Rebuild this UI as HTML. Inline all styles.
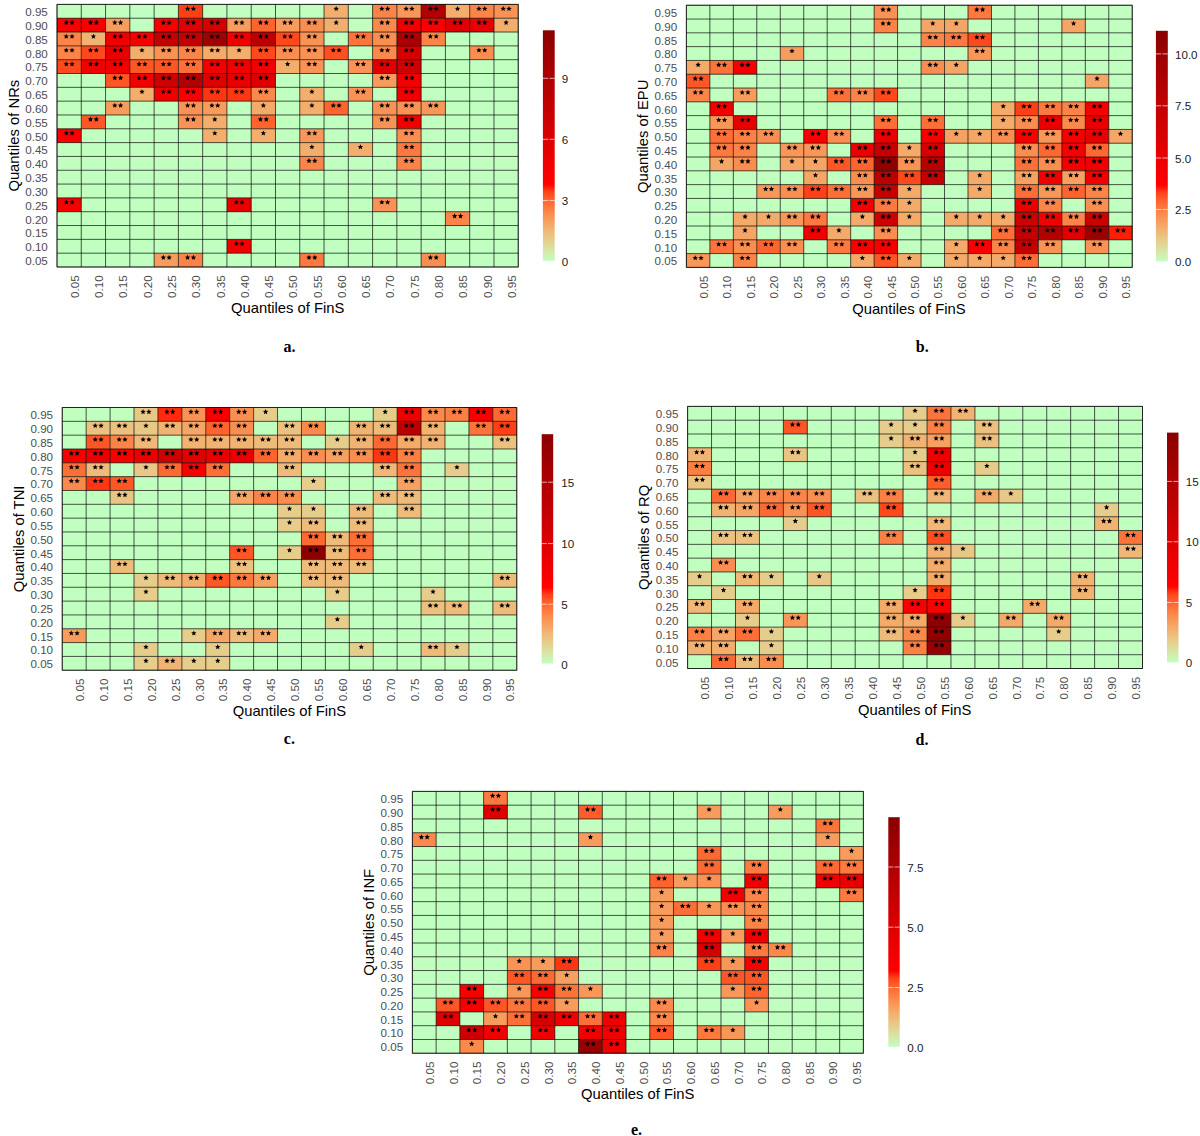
<!DOCTYPE html><html><head><meta charset="utf-8"><style>html,body{margin:0;padding:0;background:#fff;}svg{display:block}.al{font-family:"Liberation Sans",sans-serif;font-size:11.6px;fill:#4D4D4D}.lg{font-family:"Liberation Sans",sans-serif;font-size:11.6px;fill:#1A1A1A}.tt{font-family:"Liberation Sans",sans-serif;font-size:14.8px;fill:#000}.cp{font-family:"Liberation Serif",serif;font-size:16px;font-weight:bold;fill:#000}</style></head><body>
<svg width="1200" height="1136" viewBox="0 0 1200 1136">
<defs><path id="s" d="M0.00,-2.80L0.76,-1.05L2.66,-0.87L1.24,0.40L1.65,2.27L0.00,1.30L-1.65,2.27L-1.24,0.40L-2.66,-0.87L-0.76,-1.05Z"/>
<linearGradient id="cg" x1="0" y1="1" x2="0" y2="0"><stop offset="0.000" stop-color="#C1FFC1"/><stop offset="0.033" stop-color="#D2EDAE"/><stop offset="0.067" stop-color="#DEDB9B"/><stop offset="0.100" stop-color="#E8C988"/><stop offset="0.133" stop-color="#F0B675"/><stop offset="0.167" stop-color="#F6A363"/><stop offset="0.200" stop-color="#FA8F51"/><stop offset="0.233" stop-color="#FD793F"/><stop offset="0.267" stop-color="#FF602D"/><stop offset="0.300" stop-color="#FF4219"/><stop offset="0.333" stop-color="#FF0000"/><stop offset="0.367" stop-color="#F90000"/><stop offset="0.400" stop-color="#F30001"/><stop offset="0.433" stop-color="#ED0001"/><stop offset="0.467" stop-color="#E70001"/><stop offset="0.500" stop-color="#E10001"/><stop offset="0.533" stop-color="#DB0001"/><stop offset="0.567" stop-color="#D50002"/><stop offset="0.600" stop-color="#CF0002"/><stop offset="0.633" stop-color="#C90002"/><stop offset="0.667" stop-color="#C30002"/><stop offset="0.700" stop-color="#BE0002"/><stop offset="0.733" stop-color="#B80002"/><stop offset="0.767" stop-color="#B20002"/><stop offset="0.800" stop-color="#AC0002"/><stop offset="0.833" stop-color="#A70002"/><stop offset="0.867" stop-color="#A10002"/><stop offset="0.900" stop-color="#9B0002"/><stop offset="0.933" stop-color="#960001"/><stop offset="0.967" stop-color="#900001"/><stop offset="1.000" stop-color="#8B0000"/></linearGradient></defs>
<rect width="1200" height="1136" fill="#fff"/>
<rect x="57" y="4.4" width="461.25" height="262.6" fill="#C1FFC1"/>
<rect x="178.38" y="4.4" width="24.28" height="13.82" fill="#FF4017"/>
<rect x="324.04" y="4.4" width="24.28" height="13.82" fill="#F3AE6D"/>
<rect x="372.59" y="4.4" width="24.28" height="13.82" fill="#FC8448"/>
<rect x="396.87" y="4.4" width="24.28" height="13.82" fill="#F89758"/>
<rect x="421.14" y="4.4" width="24.28" height="13.82" fill="#B20002"/>
<rect x="445.42" y="4.4" width="24.28" height="13.82" fill="#F3AE6D"/>
<rect x="469.7" y="4.4" width="24.28" height="13.82" fill="#FC8448"/>
<rect x="493.97" y="4.4" width="24.28" height="13.82" fill="#F99254"/>
<rect x="57" y="18.22" width="24.28" height="13.82" fill="#FB0000"/>
<rect x="81.28" y="18.22" width="24.28" height="13.82" fill="#F60000"/>
<rect x="105.55" y="18.22" width="24.28" height="13.82" fill="#F79C5D"/>
<rect x="154.11" y="18.22" width="24.28" height="13.82" fill="#F60000"/>
<rect x="178.38" y="18.22" width="24.28" height="13.82" fill="#DF0001"/>
<rect x="202.66" y="18.22" width="24.28" height="13.82" fill="#D60002"/>
<rect x="226.93" y="18.22" width="24.28" height="13.82" fill="#F79C5D"/>
<rect x="251.21" y="18.22" width="24.28" height="13.82" fill="#FF632E"/>
<rect x="275.49" y="18.22" width="24.28" height="13.82" fill="#F79C5D"/>
<rect x="299.76" y="18.22" width="24.28" height="13.82" fill="#FA8E50"/>
<rect x="324.04" y="18.22" width="24.28" height="13.82" fill="#F3AE6D"/>
<rect x="372.59" y="18.22" width="24.28" height="13.82" fill="#FB894C"/>
<rect x="396.87" y="18.22" width="24.28" height="13.82" fill="#EE0001"/>
<rect x="421.14" y="18.22" width="24.28" height="13.82" fill="#FB0000"/>
<rect x="445.42" y="18.22" width="24.28" height="13.82" fill="#DF0001"/>
<rect x="469.7" y="18.22" width="24.28" height="13.82" fill="#E90001"/>
<rect x="493.97" y="18.22" width="24.28" height="13.82" fill="#F3AE6D"/>
<rect x="57" y="32.04" width="24.28" height="13.82" fill="#FC8448"/>
<rect x="81.28" y="32.04" width="24.28" height="13.82" fill="#F1B372"/>
<rect x="105.55" y="32.04" width="24.28" height="13.82" fill="#F20001"/>
<rect x="129.83" y="32.04" width="24.28" height="13.82" fill="#F60000"/>
<rect x="154.11" y="32.04" width="24.28" height="13.82" fill="#C40002"/>
<rect x="178.38" y="32.04" width="24.28" height="13.82" fill="#C40002"/>
<rect x="202.66" y="32.04" width="24.28" height="13.82" fill="#A10002"/>
<rect x="226.93" y="32.04" width="24.28" height="13.82" fill="#F20001"/>
<rect x="251.21" y="32.04" width="24.28" height="13.82" fill="#BB0002"/>
<rect x="275.49" y="32.04" width="24.28" height="13.82" fill="#FF481C"/>
<rect x="299.76" y="32.04" width="24.28" height="13.82" fill="#F99254"/>
<rect x="348.32" y="32.04" width="24.28" height="13.82" fill="#FD743B"/>
<rect x="372.59" y="32.04" width="24.28" height="13.82" fill="#FA8E50"/>
<rect x="396.87" y="32.04" width="24.28" height="13.82" fill="#AA0002"/>
<rect x="421.14" y="32.04" width="24.28" height="13.82" fill="#FC8448"/>
<rect x="57" y="45.86" width="24.28" height="13.82" fill="#FC8448"/>
<rect x="81.28" y="45.86" width="24.28" height="13.82" fill="#FF481C"/>
<rect x="105.55" y="45.86" width="24.28" height="13.82" fill="#E90001"/>
<rect x="129.83" y="45.86" width="24.28" height="13.82" fill="#F3AE6D"/>
<rect x="154.11" y="45.86" width="24.28" height="13.82" fill="#F99254"/>
<rect x="178.38" y="45.86" width="24.28" height="13.82" fill="#FC8448"/>
<rect x="202.66" y="45.86" width="24.28" height="13.82" fill="#F4AA69"/>
<rect x="226.93" y="45.86" width="24.28" height="13.82" fill="#F3AE6D"/>
<rect x="251.21" y="45.86" width="24.28" height="13.82" fill="#FF481C"/>
<rect x="275.49" y="45.86" width="24.28" height="13.82" fill="#FA8E50"/>
<rect x="299.76" y="45.86" width="24.28" height="13.82" fill="#F99254"/>
<rect x="324.04" y="45.86" width="24.28" height="13.82" fill="#FF4F21"/>
<rect x="372.59" y="45.86" width="24.28" height="13.82" fill="#FB894C"/>
<rect x="396.87" y="45.86" width="24.28" height="13.82" fill="#D60002"/>
<rect x="469.7" y="45.86" width="24.28" height="13.82" fill="#FA8E50"/>
<rect x="57" y="59.68" width="24.28" height="13.82" fill="#FF481C"/>
<rect x="81.28" y="59.68" width="24.28" height="13.82" fill="#F20001"/>
<rect x="105.55" y="59.68" width="24.28" height="13.82" fill="#F20001"/>
<rect x="129.83" y="59.68" width="24.28" height="13.82" fill="#FF5626"/>
<rect x="154.11" y="59.68" width="24.28" height="13.82" fill="#FF5626"/>
<rect x="178.38" y="59.68" width="24.28" height="13.82" fill="#FE6F37"/>
<rect x="202.66" y="59.68" width="24.28" height="13.82" fill="#F20001"/>
<rect x="226.93" y="59.68" width="24.28" height="13.82" fill="#F20001"/>
<rect x="251.21" y="59.68" width="24.28" height="13.82" fill="#F20001"/>
<rect x="275.49" y="59.68" width="24.28" height="13.82" fill="#F3AE6D"/>
<rect x="299.76" y="59.68" width="24.28" height="13.82" fill="#F99254"/>
<rect x="348.32" y="59.68" width="24.28" height="13.82" fill="#F99254"/>
<rect x="372.59" y="59.68" width="24.28" height="13.82" fill="#DF0001"/>
<rect x="396.87" y="59.68" width="24.28" height="13.82" fill="#CD0002"/>
<rect x="105.55" y="73.51" width="24.28" height="13.82" fill="#FF5626"/>
<rect x="129.83" y="73.51" width="24.28" height="13.82" fill="#F20001"/>
<rect x="154.11" y="73.51" width="24.28" height="13.82" fill="#CD0002"/>
<rect x="178.38" y="73.51" width="24.28" height="13.82" fill="#B20002"/>
<rect x="202.66" y="73.51" width="24.28" height="13.82" fill="#DF0001"/>
<rect x="226.93" y="73.51" width="24.28" height="13.82" fill="#E90001"/>
<rect x="251.21" y="73.51" width="24.28" height="13.82" fill="#DF0001"/>
<rect x="372.59" y="73.51" width="24.28" height="13.82" fill="#F79C5D"/>
<rect x="396.87" y="73.51" width="24.28" height="13.82" fill="#F20001"/>
<rect x="129.83" y="87.33" width="24.28" height="13.82" fill="#F3AE6D"/>
<rect x="154.11" y="87.33" width="24.28" height="13.82" fill="#F20001"/>
<rect x="178.38" y="87.33" width="24.28" height="13.82" fill="#F60000"/>
<rect x="202.66" y="87.33" width="24.28" height="13.82" fill="#FF3612"/>
<rect x="226.93" y="87.33" width="24.28" height="13.82" fill="#FF3612"/>
<rect x="251.21" y="87.33" width="24.28" height="13.82" fill="#FB894C"/>
<rect x="299.76" y="87.33" width="24.28" height="13.82" fill="#F3AE6D"/>
<rect x="348.32" y="87.33" width="24.28" height="13.82" fill="#F99254"/>
<rect x="396.87" y="87.33" width="24.28" height="13.82" fill="#F20001"/>
<rect x="105.55" y="101.15" width="24.28" height="13.82" fill="#F79C5D"/>
<rect x="178.38" y="101.15" width="24.28" height="13.82" fill="#F99254"/>
<rect x="202.66" y="101.15" width="24.28" height="13.82" fill="#F79C5D"/>
<rect x="251.21" y="101.15" width="24.28" height="13.82" fill="#F4AA69"/>
<rect x="299.76" y="101.15" width="24.28" height="13.82" fill="#F3AE6D"/>
<rect x="324.04" y="101.15" width="24.28" height="13.82" fill="#FF632E"/>
<rect x="372.59" y="101.15" width="24.28" height="13.82" fill="#F99254"/>
<rect x="396.87" y="101.15" width="24.28" height="13.82" fill="#F99254"/>
<rect x="421.14" y="101.15" width="24.28" height="13.82" fill="#F89758"/>
<rect x="81.28" y="114.97" width="24.28" height="13.82" fill="#FF5626"/>
<rect x="178.38" y="114.97" width="24.28" height="13.82" fill="#F99254"/>
<rect x="202.66" y="114.97" width="24.28" height="13.82" fill="#F3AE6D"/>
<rect x="251.21" y="114.97" width="24.28" height="13.82" fill="#FF632E"/>
<rect x="372.59" y="114.97" width="24.28" height="13.82" fill="#F99254"/>
<rect x="396.87" y="114.97" width="24.28" height="13.82" fill="#F20001"/>
<rect x="57" y="128.79" width="24.28" height="13.82" fill="#FB0000"/>
<rect x="202.66" y="128.79" width="24.28" height="13.82" fill="#F3AE6D"/>
<rect x="251.21" y="128.79" width="24.28" height="13.82" fill="#F3AE6D"/>
<rect x="299.76" y="128.79" width="24.28" height="13.82" fill="#F89758"/>
<rect x="396.87" y="128.79" width="24.28" height="13.82" fill="#FA8E50"/>
<rect x="299.76" y="142.61" width="24.28" height="13.82" fill="#F3AE6D"/>
<rect x="348.32" y="142.61" width="24.28" height="13.82" fill="#F3AE6D"/>
<rect x="396.87" y="142.61" width="24.28" height="13.82" fill="#FD793F"/>
<rect x="299.76" y="156.43" width="24.28" height="13.82" fill="#FC8448"/>
<rect x="396.87" y="156.43" width="24.28" height="13.82" fill="#FC8448"/>
<rect x="57" y="197.89" width="24.28" height="13.82" fill="#F60000"/>
<rect x="226.93" y="197.89" width="24.28" height="13.82" fill="#E90001"/>
<rect x="372.59" y="197.89" width="24.28" height="13.82" fill="#F99254"/>
<rect x="445.42" y="211.72" width="24.28" height="13.82" fill="#FC8448"/>
<rect x="226.93" y="239.36" width="24.28" height="13.82" fill="#F20001"/>
<rect x="154.11" y="253.18" width="24.28" height="13.82" fill="#F79C5D"/>
<rect x="178.38" y="253.18" width="24.28" height="13.82" fill="#FC8448"/>
<rect x="299.76" y="253.18" width="24.28" height="13.82" fill="#FD793F"/>
<rect x="421.14" y="253.18" width="24.28" height="13.82" fill="#FA8E50"/>
<path d="M57 4.4V267M57 4.4H518.25M81.28 4.4V267M57 18.22H518.25M105.55 4.4V267M57 32.04H518.25M129.83 4.4V267M57 45.86H518.25M154.11 4.4V267M57 59.68H518.25M178.38 4.4V267M57 73.51H518.25M202.66 4.4V267M57 87.33H518.25M226.93 4.4V267M57 101.15H518.25M251.21 4.4V267M57 114.97H518.25M275.49 4.4V267M57 128.79H518.25M299.76 4.4V267M57 142.61H518.25M324.04 4.4V267M57 156.43H518.25M348.32 4.4V267M57 170.25H518.25M372.59 4.4V267M57 184.07H518.25M396.87 4.4V267M57 197.89H518.25M421.14 4.4V267M57 211.72H518.25M445.42 4.4V267M57 225.54H518.25M469.7 4.4V267M57 239.36H518.25M493.97 4.4V267M57 253.18H518.25M518.25 4.4V267M57 267H518.25" stroke="#000" stroke-opacity="0.75" stroke-width="0.9" fill="none"/>
<rect x="57" y="4.4" width="461.25" height="262.6" stroke="#000" stroke-opacity="0.55" stroke-width="1" fill="none"/>
<g fill="#000"><use href="#s" x="187.62" y="8.81"/><use href="#s" x="193.42" y="8.81"/><use href="#s" x="336.18" y="8.81"/><use href="#s" x="381.83" y="8.81"/><use href="#s" x="387.63" y="8.81"/><use href="#s" x="406.11" y="8.81"/><use href="#s" x="411.91" y="8.81"/><use href="#s" x="430.38" y="8.81"/><use href="#s" x="436.18" y="8.81"/><use href="#s" x="457.56" y="8.81"/><use href="#s" x="478.94" y="8.81"/><use href="#s" x="484.74" y="8.81"/><use href="#s" x="503.21" y="8.81"/><use href="#s" x="509.01" y="8.81"/><use href="#s" x="66.24" y="22.63"/><use href="#s" x="72.04" y="22.63"/><use href="#s" x="90.51" y="22.63"/><use href="#s" x="96.31" y="22.63"/><use href="#s" x="114.79" y="22.63"/><use href="#s" x="120.59" y="22.63"/><use href="#s" x="163.34" y="22.63"/><use href="#s" x="169.14" y="22.63"/><use href="#s" x="187.62" y="22.63"/><use href="#s" x="193.42" y="22.63"/><use href="#s" x="211.9" y="22.63"/><use href="#s" x="217.7" y="22.63"/><use href="#s" x="236.17" y="22.63"/><use href="#s" x="241.97" y="22.63"/><use href="#s" x="260.45" y="22.63"/><use href="#s" x="266.25" y="22.63"/><use href="#s" x="284.73" y="22.63"/><use href="#s" x="290.52" y="22.63"/><use href="#s" x="309" y="22.63"/><use href="#s" x="314.8" y="22.63"/><use href="#s" x="336.18" y="22.63"/><use href="#s" x="381.83" y="22.63"/><use href="#s" x="387.63" y="22.63"/><use href="#s" x="406.11" y="22.63"/><use href="#s" x="411.91" y="22.63"/><use href="#s" x="430.38" y="22.63"/><use href="#s" x="436.18" y="22.63"/><use href="#s" x="454.66" y="22.63"/><use href="#s" x="460.46" y="22.63"/><use href="#s" x="478.94" y="22.63"/><use href="#s" x="484.74" y="22.63"/><use href="#s" x="506.11" y="22.63"/><use href="#s" x="66.24" y="36.45"/><use href="#s" x="72.04" y="36.45"/><use href="#s" x="93.41" y="36.45"/><use href="#s" x="114.79" y="36.45"/><use href="#s" x="120.59" y="36.45"/><use href="#s" x="139.07" y="36.45"/><use href="#s" x="144.87" y="36.45"/><use href="#s" x="163.34" y="36.45"/><use href="#s" x="169.14" y="36.45"/><use href="#s" x="187.62" y="36.45"/><use href="#s" x="193.42" y="36.45"/><use href="#s" x="211.9" y="36.45"/><use href="#s" x="217.7" y="36.45"/><use href="#s" x="236.17" y="36.45"/><use href="#s" x="241.97" y="36.45"/><use href="#s" x="260.45" y="36.45"/><use href="#s" x="266.25" y="36.45"/><use href="#s" x="284.73" y="36.45"/><use href="#s" x="290.52" y="36.45"/><use href="#s" x="309" y="36.45"/><use href="#s" x="314.8" y="36.45"/><use href="#s" x="357.55" y="36.45"/><use href="#s" x="363.35" y="36.45"/><use href="#s" x="381.83" y="36.45"/><use href="#s" x="387.63" y="36.45"/><use href="#s" x="406.11" y="36.45"/><use href="#s" x="411.91" y="36.45"/><use href="#s" x="430.38" y="36.45"/><use href="#s" x="436.18" y="36.45"/><use href="#s" x="66.24" y="50.27"/><use href="#s" x="72.04" y="50.27"/><use href="#s" x="90.51" y="50.27"/><use href="#s" x="96.31" y="50.27"/><use href="#s" x="114.79" y="50.27"/><use href="#s" x="120.59" y="50.27"/><use href="#s" x="141.97" y="50.27"/><use href="#s" x="163.34" y="50.27"/><use href="#s" x="169.14" y="50.27"/><use href="#s" x="187.62" y="50.27"/><use href="#s" x="193.42" y="50.27"/><use href="#s" x="211.9" y="50.27"/><use href="#s" x="217.7" y="50.27"/><use href="#s" x="239.07" y="50.27"/><use href="#s" x="260.45" y="50.27"/><use href="#s" x="266.25" y="50.27"/><use href="#s" x="284.73" y="50.27"/><use href="#s" x="290.52" y="50.27"/><use href="#s" x="309" y="50.27"/><use href="#s" x="314.8" y="50.27"/><use href="#s" x="333.28" y="50.27"/><use href="#s" x="339.08" y="50.27"/><use href="#s" x="381.83" y="50.27"/><use href="#s" x="387.63" y="50.27"/><use href="#s" x="406.11" y="50.27"/><use href="#s" x="411.91" y="50.27"/><use href="#s" x="478.94" y="50.27"/><use href="#s" x="484.74" y="50.27"/><use href="#s" x="66.24" y="64.09"/><use href="#s" x="72.04" y="64.09"/><use href="#s" x="90.51" y="64.09"/><use href="#s" x="96.31" y="64.09"/><use href="#s" x="114.79" y="64.09"/><use href="#s" x="120.59" y="64.09"/><use href="#s" x="139.07" y="64.09"/><use href="#s" x="144.87" y="64.09"/><use href="#s" x="163.34" y="64.09"/><use href="#s" x="169.14" y="64.09"/><use href="#s" x="187.62" y="64.09"/><use href="#s" x="193.42" y="64.09"/><use href="#s" x="211.9" y="64.09"/><use href="#s" x="217.7" y="64.09"/><use href="#s" x="236.17" y="64.09"/><use href="#s" x="241.97" y="64.09"/><use href="#s" x="260.45" y="64.09"/><use href="#s" x="266.25" y="64.09"/><use href="#s" x="287.62" y="64.09"/><use href="#s" x="309" y="64.09"/><use href="#s" x="314.8" y="64.09"/><use href="#s" x="357.55" y="64.09"/><use href="#s" x="363.35" y="64.09"/><use href="#s" x="381.83" y="64.09"/><use href="#s" x="387.63" y="64.09"/><use href="#s" x="406.11" y="64.09"/><use href="#s" x="411.91" y="64.09"/><use href="#s" x="114.79" y="77.92"/><use href="#s" x="120.59" y="77.92"/><use href="#s" x="139.07" y="77.92"/><use href="#s" x="144.87" y="77.92"/><use href="#s" x="163.34" y="77.92"/><use href="#s" x="169.14" y="77.92"/><use href="#s" x="187.62" y="77.92"/><use href="#s" x="193.42" y="77.92"/><use href="#s" x="211.9" y="77.92"/><use href="#s" x="217.7" y="77.92"/><use href="#s" x="236.17" y="77.92"/><use href="#s" x="241.97" y="77.92"/><use href="#s" x="260.45" y="77.92"/><use href="#s" x="266.25" y="77.92"/><use href="#s" x="381.83" y="77.92"/><use href="#s" x="387.63" y="77.92"/><use href="#s" x="406.11" y="77.92"/><use href="#s" x="411.91" y="77.92"/><use href="#s" x="141.97" y="91.74"/><use href="#s" x="163.34" y="91.74"/><use href="#s" x="169.14" y="91.74"/><use href="#s" x="187.62" y="91.74"/><use href="#s" x="193.42" y="91.74"/><use href="#s" x="211.9" y="91.74"/><use href="#s" x="217.7" y="91.74"/><use href="#s" x="236.17" y="91.74"/><use href="#s" x="241.97" y="91.74"/><use href="#s" x="260.45" y="91.74"/><use href="#s" x="266.25" y="91.74"/><use href="#s" x="311.9" y="91.74"/><use href="#s" x="357.55" y="91.74"/><use href="#s" x="363.35" y="91.74"/><use href="#s" x="406.11" y="91.74"/><use href="#s" x="411.91" y="91.74"/><use href="#s" x="114.79" y="105.56"/><use href="#s" x="120.59" y="105.56"/><use href="#s" x="187.62" y="105.56"/><use href="#s" x="193.42" y="105.56"/><use href="#s" x="211.9" y="105.56"/><use href="#s" x="217.7" y="105.56"/><use href="#s" x="263.35" y="105.56"/><use href="#s" x="311.9" y="105.56"/><use href="#s" x="333.28" y="105.56"/><use href="#s" x="339.08" y="105.56"/><use href="#s" x="381.83" y="105.56"/><use href="#s" x="387.63" y="105.56"/><use href="#s" x="406.11" y="105.56"/><use href="#s" x="411.91" y="105.56"/><use href="#s" x="430.38" y="105.56"/><use href="#s" x="436.18" y="105.56"/><use href="#s" x="90.51" y="119.38"/><use href="#s" x="96.31" y="119.38"/><use href="#s" x="187.62" y="119.38"/><use href="#s" x="193.42" y="119.38"/><use href="#s" x="214.8" y="119.38"/><use href="#s" x="260.45" y="119.38"/><use href="#s" x="266.25" y="119.38"/><use href="#s" x="381.83" y="119.38"/><use href="#s" x="387.63" y="119.38"/><use href="#s" x="406.11" y="119.38"/><use href="#s" x="411.91" y="119.38"/><use href="#s" x="66.24" y="133.2"/><use href="#s" x="72.04" y="133.2"/><use href="#s" x="214.8" y="133.2"/><use href="#s" x="263.35" y="133.2"/><use href="#s" x="309" y="133.2"/><use href="#s" x="314.8" y="133.2"/><use href="#s" x="406.11" y="133.2"/><use href="#s" x="411.91" y="133.2"/><use href="#s" x="311.9" y="147.02"/><use href="#s" x="360.45" y="147.02"/><use href="#s" x="406.11" y="147.02"/><use href="#s" x="411.91" y="147.02"/><use href="#s" x="309" y="160.84"/><use href="#s" x="314.8" y="160.84"/><use href="#s" x="406.11" y="160.84"/><use href="#s" x="411.91" y="160.84"/><use href="#s" x="66.24" y="202.31"/><use href="#s" x="72.04" y="202.31"/><use href="#s" x="236.17" y="202.31"/><use href="#s" x="241.97" y="202.31"/><use href="#s" x="381.83" y="202.31"/><use href="#s" x="387.63" y="202.31"/><use href="#s" x="454.66" y="216.13"/><use href="#s" x="460.46" y="216.13"/><use href="#s" x="236.17" y="243.77"/><use href="#s" x="241.97" y="243.77"/><use href="#s" x="163.34" y="257.59"/><use href="#s" x="169.14" y="257.59"/><use href="#s" x="187.62" y="257.59"/><use href="#s" x="193.42" y="257.59"/><use href="#s" x="309" y="257.59"/><use href="#s" x="314.8" y="257.59"/><use href="#s" x="430.38" y="257.59"/><use href="#s" x="436.18" y="257.59"/></g>
<g class="al"><text x="47.8" y="16.21" text-anchor="end">0.95</text><text x="47.8" y="30.03" text-anchor="end">0.90</text><text x="47.8" y="43.85" text-anchor="end">0.85</text><text x="47.8" y="57.67" text-anchor="end">0.80</text><text x="47.8" y="71.49" text-anchor="end">0.75</text><text x="47.8" y="85.32" text-anchor="end">0.70</text><text x="47.8" y="99.14" text-anchor="end">0.65</text><text x="47.8" y="112.96" text-anchor="end">0.60</text><text x="47.8" y="126.78" text-anchor="end">0.55</text><text x="47.8" y="140.6" text-anchor="end">0.50</text><text x="47.8" y="154.42" text-anchor="end">0.45</text><text x="47.8" y="168.24" text-anchor="end">0.40</text><text x="47.8" y="182.06" text-anchor="end">0.35</text><text x="47.8" y="195.88" text-anchor="end">0.30</text><text x="47.8" y="209.71" text-anchor="end">0.25</text><text x="47.8" y="223.53" text-anchor="end">0.20</text><text x="47.8" y="237.35" text-anchor="end">0.15</text><text x="47.8" y="251.17" text-anchor="end">0.10</text><text x="47.8" y="264.99" text-anchor="end">0.05</text><text transform="translate(78.84 275.4) rotate(-90)" text-anchor="end">0.05</text><text transform="translate(103.11 275.4) rotate(-90)" text-anchor="end">0.10</text><text transform="translate(127.39 275.4) rotate(-90)" text-anchor="end">0.15</text><text transform="translate(151.67 275.4) rotate(-90)" text-anchor="end">0.20</text><text transform="translate(175.94 275.4) rotate(-90)" text-anchor="end">0.25</text><text transform="translate(200.22 275.4) rotate(-90)" text-anchor="end">0.30</text><text transform="translate(224.5 275.4) rotate(-90)" text-anchor="end">0.35</text><text transform="translate(248.77 275.4) rotate(-90)" text-anchor="end">0.40</text><text transform="translate(273.05 275.4) rotate(-90)" text-anchor="end">0.45</text><text transform="translate(297.32 275.4) rotate(-90)" text-anchor="end">0.50</text><text transform="translate(321.6 275.4) rotate(-90)" text-anchor="end">0.55</text><text transform="translate(345.88 275.4) rotate(-90)" text-anchor="end">0.60</text><text transform="translate(370.15 275.4) rotate(-90)" text-anchor="end">0.65</text><text transform="translate(394.43 275.4) rotate(-90)" text-anchor="end">0.70</text><text transform="translate(418.71 275.4) rotate(-90)" text-anchor="end">0.75</text><text transform="translate(442.98 275.4) rotate(-90)" text-anchor="end">0.80</text><text transform="translate(467.26 275.4) rotate(-90)" text-anchor="end">0.85</text><text transform="translate(491.54 275.4) rotate(-90)" text-anchor="end">0.90</text><text transform="translate(515.81 275.4) rotate(-90)" text-anchor="end">0.95</text></g>
<text class="tt" transform="translate(19.1 135.7) rotate(-90)" text-anchor="middle">Quantiles of NRs</text>
<text class="tt" x="287.7" y="312.8" text-anchor="middle">Quantiles of FinS</text>
<text class="cp" x="289.5" y="351.8" text-anchor="middle">a.</text>
<rect x="542.9" y="30.3" width="11.8" height="230.8" fill="url(#cg)"/>
<path d="M542.9 261.1h5.3M554.7 261.1h-5.3M542.9 200.6h5.3M554.7 200.6h-5.3M542.9 139.3h5.3M554.7 139.3h-5.3M542.9 78.3h5.3M554.7 78.3h-5.3" stroke="#fff" stroke-opacity="0.65" stroke-width="1"/>
<g class="lg"><text x="561.8" y="265.7">0</text><text x="561.8" y="205.2">3</text><text x="561.8" y="143.9">6</text><text x="561.8" y="82.9">9</text></g>
<rect x="686.4" y="5.25" width="445.85" height="262.15" fill="#C1FFC1"/>
<rect x="874.13" y="5.25" width="23.47" height="13.8" fill="#F99254"/>
<rect x="967.99" y="5.25" width="23.47" height="13.8" fill="#FD793F"/>
<rect x="874.13" y="19.05" width="23.47" height="13.8" fill="#FC8448"/>
<rect x="921.06" y="19.05" width="23.47" height="13.8" fill="#F5A565"/>
<rect x="944.52" y="19.05" width="23.47" height="13.8" fill="#F5A565"/>
<rect x="1061.85" y="19.05" width="23.47" height="13.8" fill="#F5A565"/>
<rect x="921.06" y="32.84" width="23.47" height="13.8" fill="#FC8448"/>
<rect x="944.52" y="32.84" width="23.47" height="13.8" fill="#FD793F"/>
<rect x="967.99" y="32.84" width="23.47" height="13.8" fill="#FF481C"/>
<rect x="780.26" y="46.64" width="23.47" height="13.8" fill="#F79C5D"/>
<rect x="967.99" y="46.64" width="23.47" height="13.8" fill="#F89758"/>
<rect x="686.4" y="60.44" width="23.47" height="13.8" fill="#F4AA69"/>
<rect x="709.87" y="60.44" width="23.47" height="13.8" fill="#FD743B"/>
<rect x="733.33" y="60.44" width="23.47" height="13.8" fill="#F60000"/>
<rect x="921.06" y="60.44" width="23.47" height="13.8" fill="#FA8E50"/>
<rect x="944.52" y="60.44" width="23.47" height="13.8" fill="#F5A565"/>
<rect x="686.4" y="74.24" width="23.47" height="13.8" fill="#FF5626"/>
<rect x="1085.32" y="74.24" width="23.47" height="13.8" fill="#F5A565"/>
<rect x="686.4" y="88.03" width="23.47" height="13.8" fill="#FC8448"/>
<rect x="733.33" y="88.03" width="23.47" height="13.8" fill="#F79C5D"/>
<rect x="827.19" y="88.03" width="23.47" height="13.8" fill="#FE6F37"/>
<rect x="850.66" y="88.03" width="23.47" height="13.8" fill="#FC8448"/>
<rect x="874.13" y="88.03" width="23.47" height="13.8" fill="#FF481C"/>
<rect x="709.87" y="101.83" width="23.47" height="13.8" fill="#F20001"/>
<rect x="991.46" y="101.83" width="23.47" height="13.8" fill="#F4AA69"/>
<rect x="1014.92" y="101.83" width="23.47" height="13.8" fill="#FF4017"/>
<rect x="1038.39" y="101.83" width="23.47" height="13.8" fill="#FD793F"/>
<rect x="1061.85" y="101.83" width="23.47" height="13.8" fill="#FC8448"/>
<rect x="1085.32" y="101.83" width="23.47" height="13.8" fill="#F60000"/>
<rect x="709.87" y="115.63" width="23.47" height="13.8" fill="#F89758"/>
<rect x="733.33" y="115.63" width="23.47" height="13.8" fill="#E90001"/>
<rect x="874.13" y="115.63" width="23.47" height="13.8" fill="#FE6F37"/>
<rect x="921.06" y="115.63" width="23.47" height="13.8" fill="#FE6F37"/>
<rect x="991.46" y="115.63" width="23.47" height="13.8" fill="#F4AA69"/>
<rect x="1014.92" y="115.63" width="23.47" height="13.8" fill="#FA8E50"/>
<rect x="1038.39" y="115.63" width="23.47" height="13.8" fill="#E90001"/>
<rect x="1061.85" y="115.63" width="23.47" height="13.8" fill="#FB894C"/>
<rect x="1085.32" y="115.63" width="23.47" height="13.8" fill="#E90001"/>
<rect x="709.87" y="129.43" width="23.47" height="13.8" fill="#FE6F37"/>
<rect x="733.33" y="129.43" width="23.47" height="13.8" fill="#FC7F43"/>
<rect x="756.8" y="129.43" width="23.47" height="13.8" fill="#FA8E50"/>
<rect x="803.73" y="129.43" width="23.47" height="13.8" fill="#FB0000"/>
<rect x="827.19" y="129.43" width="23.47" height="13.8" fill="#FA8E50"/>
<rect x="874.13" y="129.43" width="23.47" height="13.8" fill="#E90001"/>
<rect x="921.06" y="129.43" width="23.47" height="13.8" fill="#F60000"/>
<rect x="944.52" y="129.43" width="23.47" height="13.8" fill="#F6A161"/>
<rect x="967.99" y="129.43" width="23.47" height="13.8" fill="#F5A565"/>
<rect x="991.46" y="129.43" width="23.47" height="13.8" fill="#FA8E50"/>
<rect x="1014.92" y="129.43" width="23.47" height="13.8" fill="#F60000"/>
<rect x="1038.39" y="129.43" width="23.47" height="13.8" fill="#F89758"/>
<rect x="1061.85" y="129.43" width="23.47" height="13.8" fill="#F60000"/>
<rect x="1085.32" y="129.43" width="23.47" height="13.8" fill="#E90001"/>
<rect x="1108.78" y="129.43" width="23.47" height="13.8" fill="#F5A565"/>
<rect x="709.87" y="143.22" width="23.47" height="13.8" fill="#FD793F"/>
<rect x="733.33" y="143.22" width="23.47" height="13.8" fill="#FC8448"/>
<rect x="780.26" y="143.22" width="23.47" height="13.8" fill="#F89758"/>
<rect x="803.73" y="143.22" width="23.47" height="13.8" fill="#F89758"/>
<rect x="850.66" y="143.22" width="23.47" height="13.8" fill="#E90001"/>
<rect x="874.13" y="143.22" width="23.47" height="13.8" fill="#C40002"/>
<rect x="897.59" y="143.22" width="23.47" height="13.8" fill="#F4AA69"/>
<rect x="921.06" y="143.22" width="23.47" height="13.8" fill="#D60002"/>
<rect x="1014.92" y="143.22" width="23.47" height="13.8" fill="#FA8E50"/>
<rect x="1038.39" y="143.22" width="23.47" height="13.8" fill="#FE6933"/>
<rect x="1061.85" y="143.22" width="23.47" height="13.8" fill="#F60000"/>
<rect x="1085.32" y="143.22" width="23.47" height="13.8" fill="#FE6933"/>
<rect x="709.87" y="157.02" width="23.47" height="13.8" fill="#F5A565"/>
<rect x="733.33" y="157.02" width="23.47" height="13.8" fill="#FA8E50"/>
<rect x="780.26" y="157.02" width="23.47" height="13.8" fill="#F5A565"/>
<rect x="803.73" y="157.02" width="23.47" height="13.8" fill="#F5A565"/>
<rect x="827.19" y="157.02" width="23.47" height="13.8" fill="#FF5626"/>
<rect x="850.66" y="157.02" width="23.47" height="13.8" fill="#FF632E"/>
<rect x="874.13" y="157.02" width="23.47" height="13.8" fill="#900001"/>
<rect x="897.59" y="157.02" width="23.47" height="13.8" fill="#F99254"/>
<rect x="921.06" y="157.02" width="23.47" height="13.8" fill="#BB0002"/>
<rect x="1014.92" y="157.02" width="23.47" height="13.8" fill="#FE6F37"/>
<rect x="1038.39" y="157.02" width="23.47" height="13.8" fill="#FA8E50"/>
<rect x="1061.85" y="157.02" width="23.47" height="13.8" fill="#F20001"/>
<rect x="1085.32" y="157.02" width="23.47" height="13.8" fill="#F20001"/>
<rect x="803.73" y="170.82" width="23.47" height="13.8" fill="#F5A565"/>
<rect x="850.66" y="170.82" width="23.47" height="13.8" fill="#FA8E50"/>
<rect x="874.13" y="170.82" width="23.47" height="13.8" fill="#BB0002"/>
<rect x="897.59" y="170.82" width="23.47" height="13.8" fill="#FF481C"/>
<rect x="921.06" y="170.82" width="23.47" height="13.8" fill="#C40002"/>
<rect x="967.99" y="170.82" width="23.47" height="13.8" fill="#F4AA69"/>
<rect x="1014.92" y="170.82" width="23.47" height="13.8" fill="#F6A161"/>
<rect x="1038.39" y="170.82" width="23.47" height="13.8" fill="#F20001"/>
<rect x="1061.85" y="170.82" width="23.47" height="13.8" fill="#F6A161"/>
<rect x="1085.32" y="170.82" width="23.47" height="13.8" fill="#F20001"/>
<rect x="756.8" y="184.62" width="23.47" height="13.8" fill="#F89758"/>
<rect x="780.26" y="184.62" width="23.47" height="13.8" fill="#FA8E50"/>
<rect x="803.73" y="184.62" width="23.47" height="13.8" fill="#FF4017"/>
<rect x="827.19" y="184.62" width="23.47" height="13.8" fill="#FE6F37"/>
<rect x="850.66" y="184.62" width="23.47" height="13.8" fill="#F89758"/>
<rect x="874.13" y="184.62" width="23.47" height="13.8" fill="#C40002"/>
<rect x="897.59" y="184.62" width="23.47" height="13.8" fill="#F4AA69"/>
<rect x="967.99" y="184.62" width="23.47" height="13.8" fill="#F4AA69"/>
<rect x="1014.92" y="184.62" width="23.47" height="13.8" fill="#FE6F37"/>
<rect x="1038.39" y="184.62" width="23.47" height="13.8" fill="#F89758"/>
<rect x="1061.85" y="184.62" width="23.47" height="13.8" fill="#FF632E"/>
<rect x="1085.32" y="184.62" width="23.47" height="13.8" fill="#FC8448"/>
<rect x="850.66" y="198.41" width="23.47" height="13.8" fill="#F20001"/>
<rect x="874.13" y="198.41" width="23.47" height="13.8" fill="#FD793F"/>
<rect x="897.59" y="198.41" width="23.47" height="13.8" fill="#F4AA69"/>
<rect x="1014.92" y="198.41" width="23.47" height="13.8" fill="#E90001"/>
<rect x="1038.39" y="198.41" width="23.47" height="13.8" fill="#FC8448"/>
<rect x="1085.32" y="198.41" width="23.47" height="13.8" fill="#FA8E50"/>
<rect x="733.33" y="212.21" width="23.47" height="13.8" fill="#F4AA69"/>
<rect x="756.8" y="212.21" width="23.47" height="13.8" fill="#F4AA69"/>
<rect x="780.26" y="212.21" width="23.47" height="13.8" fill="#F89758"/>
<rect x="803.73" y="212.21" width="23.47" height="13.8" fill="#FD793F"/>
<rect x="850.66" y="212.21" width="23.47" height="13.8" fill="#F4AA69"/>
<rect x="874.13" y="212.21" width="23.47" height="13.8" fill="#CD0002"/>
<rect x="897.59" y="212.21" width="23.47" height="13.8" fill="#F4AA69"/>
<rect x="944.52" y="212.21" width="23.47" height="13.8" fill="#F4AA69"/>
<rect x="967.99" y="212.21" width="23.47" height="13.8" fill="#F4AA69"/>
<rect x="991.46" y="212.21" width="23.47" height="13.8" fill="#F4AA69"/>
<rect x="1014.92" y="212.21" width="23.47" height="13.8" fill="#CD0002"/>
<rect x="1038.39" y="212.21" width="23.47" height="13.8" fill="#F20001"/>
<rect x="1061.85" y="212.21" width="23.47" height="13.8" fill="#FC8448"/>
<rect x="1085.32" y="212.21" width="23.47" height="13.8" fill="#CD0002"/>
<rect x="733.33" y="226.01" width="23.47" height="13.8" fill="#F5A565"/>
<rect x="803.73" y="226.01" width="23.47" height="13.8" fill="#F20001"/>
<rect x="827.19" y="226.01" width="23.47" height="13.8" fill="#F4AA69"/>
<rect x="874.13" y="226.01" width="23.47" height="13.8" fill="#FA8E50"/>
<rect x="991.46" y="226.01" width="23.47" height="13.8" fill="#FE6F37"/>
<rect x="1014.92" y="226.01" width="23.47" height="13.8" fill="#C40002"/>
<rect x="1038.39" y="226.01" width="23.47" height="13.8" fill="#B20002"/>
<rect x="1061.85" y="226.01" width="23.47" height="13.8" fill="#DF0001"/>
<rect x="1085.32" y="226.01" width="23.47" height="13.8" fill="#990001"/>
<rect x="1108.78" y="226.01" width="23.47" height="13.8" fill="#FF1D06"/>
<rect x="709.87" y="239.81" width="23.47" height="13.8" fill="#FD743B"/>
<rect x="733.33" y="239.81" width="23.47" height="13.8" fill="#FA8E50"/>
<rect x="756.8" y="239.81" width="23.47" height="13.8" fill="#FF632E"/>
<rect x="780.26" y="239.81" width="23.47" height="13.8" fill="#FA8E50"/>
<rect x="827.19" y="239.81" width="23.47" height="13.8" fill="#FD793F"/>
<rect x="850.66" y="239.81" width="23.47" height="13.8" fill="#F60000"/>
<rect x="874.13" y="239.81" width="23.47" height="13.8" fill="#F60000"/>
<rect x="944.52" y="239.81" width="23.47" height="13.8" fill="#F4AA69"/>
<rect x="967.99" y="239.81" width="23.47" height="13.8" fill="#F60000"/>
<rect x="991.46" y="239.81" width="23.47" height="13.8" fill="#FC8448"/>
<rect x="1014.92" y="239.81" width="23.47" height="13.8" fill="#C40002"/>
<rect x="1038.39" y="239.81" width="23.47" height="13.8" fill="#F99254"/>
<rect x="1085.32" y="239.81" width="23.47" height="13.8" fill="#F99254"/>
<rect x="686.4" y="253.6" width="23.47" height="13.8" fill="#F89758"/>
<rect x="733.33" y="253.6" width="23.47" height="13.8" fill="#FC8448"/>
<rect x="850.66" y="253.6" width="23.47" height="13.8" fill="#F4AA69"/>
<rect x="874.13" y="253.6" width="23.47" height="13.8" fill="#FF5626"/>
<rect x="897.59" y="253.6" width="23.47" height="13.8" fill="#F4AA69"/>
<rect x="944.52" y="253.6" width="23.47" height="13.8" fill="#F4AA69"/>
<rect x="967.99" y="253.6" width="23.47" height="13.8" fill="#F4AA69"/>
<rect x="991.46" y="253.6" width="23.47" height="13.8" fill="#F4AA69"/>
<rect x="1014.92" y="253.6" width="23.47" height="13.8" fill="#FE6F37"/>
<path d="M686.4 5.25V267.4M686.4 5.25H1132.25M709.87 5.25V267.4M686.4 19.05H1132.25M733.33 5.25V267.4M686.4 32.84H1132.25M756.8 5.25V267.4M686.4 46.64H1132.25M780.26 5.25V267.4M686.4 60.44H1132.25M803.73 5.25V267.4M686.4 74.24H1132.25M827.19 5.25V267.4M686.4 88.03H1132.25M850.66 5.25V267.4M686.4 101.83H1132.25M874.13 5.25V267.4M686.4 115.63H1132.25M897.59 5.25V267.4M686.4 129.43H1132.25M921.06 5.25V267.4M686.4 143.22H1132.25M944.52 5.25V267.4M686.4 157.02H1132.25M967.99 5.25V267.4M686.4 170.82H1132.25M991.46 5.25V267.4M686.4 184.62H1132.25M1014.92 5.25V267.4M686.4 198.41H1132.25M1038.39 5.25V267.4M686.4 212.21H1132.25M1061.85 5.25V267.4M686.4 226.01H1132.25M1085.32 5.25V267.4M686.4 239.81H1132.25M1108.78 5.25V267.4M686.4 253.6H1132.25M1132.25 5.25V267.4M686.4 267.4H1132.25" stroke="#000" stroke-opacity="0.75" stroke-width="0.9" fill="none"/>
<rect x="686.4" y="5.25" width="445.85" height="262.15" stroke="#000" stroke-opacity="0.55" stroke-width="1" fill="none"/>
<g fill="#000"><use href="#s" x="882.96" y="9.65"/><use href="#s" x="888.76" y="9.65"/><use href="#s" x="976.82" y="9.65"/><use href="#s" x="982.62" y="9.65"/><use href="#s" x="882.96" y="23.45"/><use href="#s" x="888.76" y="23.45"/><use href="#s" x="932.79" y="23.45"/><use href="#s" x="956.26" y="23.45"/><use href="#s" x="1073.59" y="23.45"/><use href="#s" x="929.89" y="37.24"/><use href="#s" x="935.69" y="37.24"/><use href="#s" x="953.36" y="37.24"/><use href="#s" x="959.16" y="37.24"/><use href="#s" x="976.82" y="37.24"/><use href="#s" x="982.62" y="37.24"/><use href="#s" x="792" y="51.04"/><use href="#s" x="976.82" y="51.04"/><use href="#s" x="982.62" y="51.04"/><use href="#s" x="698.13" y="64.84"/><use href="#s" x="718.7" y="64.84"/><use href="#s" x="724.5" y="64.84"/><use href="#s" x="742.16" y="64.84"/><use href="#s" x="747.96" y="64.84"/><use href="#s" x="929.89" y="64.84"/><use href="#s" x="935.69" y="64.84"/><use href="#s" x="956.26" y="64.84"/><use href="#s" x="695.23" y="78.64"/><use href="#s" x="701.03" y="78.64"/><use href="#s" x="1097.05" y="78.64"/><use href="#s" x="695.23" y="92.43"/><use href="#s" x="701.03" y="92.43"/><use href="#s" x="742.16" y="92.43"/><use href="#s" x="747.96" y="92.43"/><use href="#s" x="836.03" y="92.43"/><use href="#s" x="841.83" y="92.43"/><use href="#s" x="859.49" y="92.43"/><use href="#s" x="865.29" y="92.43"/><use href="#s" x="882.96" y="92.43"/><use href="#s" x="888.76" y="92.43"/><use href="#s" x="718.7" y="106.23"/><use href="#s" x="724.5" y="106.23"/><use href="#s" x="1003.19" y="106.23"/><use href="#s" x="1023.75" y="106.23"/><use href="#s" x="1029.55" y="106.23"/><use href="#s" x="1047.22" y="106.23"/><use href="#s" x="1053.02" y="106.23"/><use href="#s" x="1070.69" y="106.23"/><use href="#s" x="1076.49" y="106.23"/><use href="#s" x="1094.15" y="106.23"/><use href="#s" x="1099.95" y="106.23"/><use href="#s" x="718.7" y="120.03"/><use href="#s" x="724.5" y="120.03"/><use href="#s" x="742.16" y="120.03"/><use href="#s" x="747.96" y="120.03"/><use href="#s" x="882.96" y="120.03"/><use href="#s" x="888.76" y="120.03"/><use href="#s" x="929.89" y="120.03"/><use href="#s" x="935.69" y="120.03"/><use href="#s" x="1003.19" y="120.03"/><use href="#s" x="1023.75" y="120.03"/><use href="#s" x="1029.55" y="120.03"/><use href="#s" x="1047.22" y="120.03"/><use href="#s" x="1053.02" y="120.03"/><use href="#s" x="1070.69" y="120.03"/><use href="#s" x="1076.49" y="120.03"/><use href="#s" x="1094.15" y="120.03"/><use href="#s" x="1099.95" y="120.03"/><use href="#s" x="718.7" y="133.82"/><use href="#s" x="724.5" y="133.82"/><use href="#s" x="742.16" y="133.82"/><use href="#s" x="747.96" y="133.82"/><use href="#s" x="765.63" y="133.82"/><use href="#s" x="771.43" y="133.82"/><use href="#s" x="812.56" y="133.82"/><use href="#s" x="818.36" y="133.82"/><use href="#s" x="836.03" y="133.82"/><use href="#s" x="841.83" y="133.82"/><use href="#s" x="882.96" y="133.82"/><use href="#s" x="888.76" y="133.82"/><use href="#s" x="929.89" y="133.82"/><use href="#s" x="935.69" y="133.82"/><use href="#s" x="956.26" y="133.82"/><use href="#s" x="979.72" y="133.82"/><use href="#s" x="1000.29" y="133.82"/><use href="#s" x="1006.09" y="133.82"/><use href="#s" x="1023.75" y="133.82"/><use href="#s" x="1029.55" y="133.82"/><use href="#s" x="1047.22" y="133.82"/><use href="#s" x="1053.02" y="133.82"/><use href="#s" x="1070.69" y="133.82"/><use href="#s" x="1076.49" y="133.82"/><use href="#s" x="1094.15" y="133.82"/><use href="#s" x="1099.95" y="133.82"/><use href="#s" x="1120.52" y="133.82"/><use href="#s" x="718.7" y="147.62"/><use href="#s" x="724.5" y="147.62"/><use href="#s" x="742.16" y="147.62"/><use href="#s" x="747.96" y="147.62"/><use href="#s" x="789.1" y="147.62"/><use href="#s" x="794.9" y="147.62"/><use href="#s" x="812.56" y="147.62"/><use href="#s" x="818.36" y="147.62"/><use href="#s" x="859.49" y="147.62"/><use href="#s" x="865.29" y="147.62"/><use href="#s" x="882.96" y="147.62"/><use href="#s" x="888.76" y="147.62"/><use href="#s" x="909.33" y="147.62"/><use href="#s" x="929.89" y="147.62"/><use href="#s" x="935.69" y="147.62"/><use href="#s" x="1023.75" y="147.62"/><use href="#s" x="1029.55" y="147.62"/><use href="#s" x="1047.22" y="147.62"/><use href="#s" x="1053.02" y="147.62"/><use href="#s" x="1070.69" y="147.62"/><use href="#s" x="1076.49" y="147.62"/><use href="#s" x="1094.15" y="147.62"/><use href="#s" x="1099.95" y="147.62"/><use href="#s" x="721.6" y="161.42"/><use href="#s" x="742.16" y="161.42"/><use href="#s" x="747.96" y="161.42"/><use href="#s" x="792" y="161.42"/><use href="#s" x="815.46" y="161.42"/><use href="#s" x="836.03" y="161.42"/><use href="#s" x="841.83" y="161.42"/><use href="#s" x="859.49" y="161.42"/><use href="#s" x="865.29" y="161.42"/><use href="#s" x="882.96" y="161.42"/><use href="#s" x="888.76" y="161.42"/><use href="#s" x="906.43" y="161.42"/><use href="#s" x="912.23" y="161.42"/><use href="#s" x="929.89" y="161.42"/><use href="#s" x="935.69" y="161.42"/><use href="#s" x="1023.75" y="161.42"/><use href="#s" x="1029.55" y="161.42"/><use href="#s" x="1047.22" y="161.42"/><use href="#s" x="1053.02" y="161.42"/><use href="#s" x="1070.69" y="161.42"/><use href="#s" x="1076.49" y="161.42"/><use href="#s" x="1094.15" y="161.42"/><use href="#s" x="1099.95" y="161.42"/><use href="#s" x="815.46" y="175.22"/><use href="#s" x="859.49" y="175.22"/><use href="#s" x="865.29" y="175.22"/><use href="#s" x="882.96" y="175.22"/><use href="#s" x="888.76" y="175.22"/><use href="#s" x="906.43" y="175.22"/><use href="#s" x="912.23" y="175.22"/><use href="#s" x="929.89" y="175.22"/><use href="#s" x="935.69" y="175.22"/><use href="#s" x="979.72" y="175.22"/><use href="#s" x="1023.75" y="175.22"/><use href="#s" x="1029.55" y="175.22"/><use href="#s" x="1047.22" y="175.22"/><use href="#s" x="1053.02" y="175.22"/><use href="#s" x="1070.69" y="175.22"/><use href="#s" x="1076.49" y="175.22"/><use href="#s" x="1094.15" y="175.22"/><use href="#s" x="1099.95" y="175.22"/><use href="#s" x="765.63" y="189.01"/><use href="#s" x="771.43" y="189.01"/><use href="#s" x="789.1" y="189.01"/><use href="#s" x="794.9" y="189.01"/><use href="#s" x="812.56" y="189.01"/><use href="#s" x="818.36" y="189.01"/><use href="#s" x="836.03" y="189.01"/><use href="#s" x="841.83" y="189.01"/><use href="#s" x="859.49" y="189.01"/><use href="#s" x="865.29" y="189.01"/><use href="#s" x="882.96" y="189.01"/><use href="#s" x="888.76" y="189.01"/><use href="#s" x="909.33" y="189.01"/><use href="#s" x="979.72" y="189.01"/><use href="#s" x="1023.75" y="189.01"/><use href="#s" x="1029.55" y="189.01"/><use href="#s" x="1047.22" y="189.01"/><use href="#s" x="1053.02" y="189.01"/><use href="#s" x="1070.69" y="189.01"/><use href="#s" x="1076.49" y="189.01"/><use href="#s" x="1094.15" y="189.01"/><use href="#s" x="1099.95" y="189.01"/><use href="#s" x="859.49" y="202.81"/><use href="#s" x="865.29" y="202.81"/><use href="#s" x="882.96" y="202.81"/><use href="#s" x="888.76" y="202.81"/><use href="#s" x="909.33" y="202.81"/><use href="#s" x="1023.75" y="202.81"/><use href="#s" x="1029.55" y="202.81"/><use href="#s" x="1047.22" y="202.81"/><use href="#s" x="1053.02" y="202.81"/><use href="#s" x="1094.15" y="202.81"/><use href="#s" x="1099.95" y="202.81"/><use href="#s" x="745.06" y="216.61"/><use href="#s" x="768.53" y="216.61"/><use href="#s" x="789.1" y="216.61"/><use href="#s" x="794.9" y="216.61"/><use href="#s" x="812.56" y="216.61"/><use href="#s" x="818.36" y="216.61"/><use href="#s" x="862.39" y="216.61"/><use href="#s" x="882.96" y="216.61"/><use href="#s" x="888.76" y="216.61"/><use href="#s" x="909.33" y="216.61"/><use href="#s" x="956.26" y="216.61"/><use href="#s" x="979.72" y="216.61"/><use href="#s" x="1003.19" y="216.61"/><use href="#s" x="1023.75" y="216.61"/><use href="#s" x="1029.55" y="216.61"/><use href="#s" x="1047.22" y="216.61"/><use href="#s" x="1053.02" y="216.61"/><use href="#s" x="1070.69" y="216.61"/><use href="#s" x="1076.49" y="216.61"/><use href="#s" x="1094.15" y="216.61"/><use href="#s" x="1099.95" y="216.61"/><use href="#s" x="745.06" y="230.41"/><use href="#s" x="812.56" y="230.41"/><use href="#s" x="818.36" y="230.41"/><use href="#s" x="838.93" y="230.41"/><use href="#s" x="882.96" y="230.41"/><use href="#s" x="888.76" y="230.41"/><use href="#s" x="1000.29" y="230.41"/><use href="#s" x="1006.09" y="230.41"/><use href="#s" x="1023.75" y="230.41"/><use href="#s" x="1029.55" y="230.41"/><use href="#s" x="1047.22" y="230.41"/><use href="#s" x="1053.02" y="230.41"/><use href="#s" x="1070.69" y="230.41"/><use href="#s" x="1076.49" y="230.41"/><use href="#s" x="1094.15" y="230.41"/><use href="#s" x="1099.95" y="230.41"/><use href="#s" x="1117.62" y="230.41"/><use href="#s" x="1123.42" y="230.41"/><use href="#s" x="718.7" y="244.2"/><use href="#s" x="724.5" y="244.2"/><use href="#s" x="742.16" y="244.2"/><use href="#s" x="747.96" y="244.2"/><use href="#s" x="765.63" y="244.2"/><use href="#s" x="771.43" y="244.2"/><use href="#s" x="789.1" y="244.2"/><use href="#s" x="794.9" y="244.2"/><use href="#s" x="836.03" y="244.2"/><use href="#s" x="841.83" y="244.2"/><use href="#s" x="859.49" y="244.2"/><use href="#s" x="865.29" y="244.2"/><use href="#s" x="882.96" y="244.2"/><use href="#s" x="888.76" y="244.2"/><use href="#s" x="956.26" y="244.2"/><use href="#s" x="976.82" y="244.2"/><use href="#s" x="982.62" y="244.2"/><use href="#s" x="1000.29" y="244.2"/><use href="#s" x="1006.09" y="244.2"/><use href="#s" x="1023.75" y="244.2"/><use href="#s" x="1029.55" y="244.2"/><use href="#s" x="1047.22" y="244.2"/><use href="#s" x="1053.02" y="244.2"/><use href="#s" x="1094.15" y="244.2"/><use href="#s" x="1099.95" y="244.2"/><use href="#s" x="695.23" y="258"/><use href="#s" x="701.03" y="258"/><use href="#s" x="742.16" y="258"/><use href="#s" x="747.96" y="258"/><use href="#s" x="862.39" y="258"/><use href="#s" x="882.96" y="258"/><use href="#s" x="888.76" y="258"/><use href="#s" x="909.33" y="258"/><use href="#s" x="956.26" y="258"/><use href="#s" x="979.72" y="258"/><use href="#s" x="1003.19" y="258"/><use href="#s" x="1023.75" y="258"/><use href="#s" x="1029.55" y="258"/></g>
<g class="al"><text x="677.2" y="17.05" text-anchor="end">0.95</text><text x="677.2" y="30.85" text-anchor="end">0.90</text><text x="677.2" y="44.64" text-anchor="end">0.85</text><text x="677.2" y="58.44" text-anchor="end">0.80</text><text x="677.2" y="72.24" text-anchor="end">0.75</text><text x="677.2" y="86.04" text-anchor="end">0.70</text><text x="677.2" y="99.83" text-anchor="end">0.65</text><text x="677.2" y="113.63" text-anchor="end">0.60</text><text x="677.2" y="127.43" text-anchor="end">0.55</text><text x="677.2" y="141.22" text-anchor="end">0.50</text><text x="677.2" y="155.02" text-anchor="end">0.45</text><text x="677.2" y="168.82" text-anchor="end">0.40</text><text x="677.2" y="182.62" text-anchor="end">0.35</text><text x="677.2" y="196.41" text-anchor="end">0.30</text><text x="677.2" y="210.21" text-anchor="end">0.25</text><text x="677.2" y="224.01" text-anchor="end">0.20</text><text x="677.2" y="237.81" text-anchor="end">0.15</text><text x="677.2" y="251.6" text-anchor="end">0.10</text><text x="677.2" y="265.4" text-anchor="end">0.05</text><text transform="translate(707.83 275.8) rotate(-90)" text-anchor="end">0.05</text><text transform="translate(731.3 275.8) rotate(-90)" text-anchor="end">0.10</text><text transform="translate(754.76 275.8) rotate(-90)" text-anchor="end">0.15</text><text transform="translate(778.23 275.8) rotate(-90)" text-anchor="end">0.20</text><text transform="translate(801.7 275.8) rotate(-90)" text-anchor="end">0.25</text><text transform="translate(825.16 275.8) rotate(-90)" text-anchor="end">0.30</text><text transform="translate(848.63 275.8) rotate(-90)" text-anchor="end">0.35</text><text transform="translate(872.09 275.8) rotate(-90)" text-anchor="end">0.40</text><text transform="translate(895.56 275.8) rotate(-90)" text-anchor="end">0.45</text><text transform="translate(919.03 275.8) rotate(-90)" text-anchor="end">0.50</text><text transform="translate(942.49 275.8) rotate(-90)" text-anchor="end">0.55</text><text transform="translate(965.96 275.8) rotate(-90)" text-anchor="end">0.60</text><text transform="translate(989.42 275.8) rotate(-90)" text-anchor="end">0.65</text><text transform="translate(1012.89 275.8) rotate(-90)" text-anchor="end">0.70</text><text transform="translate(1036.35 275.8) rotate(-90)" text-anchor="end">0.75</text><text transform="translate(1059.82 275.8) rotate(-90)" text-anchor="end">0.80</text><text transform="translate(1083.29 275.8) rotate(-90)" text-anchor="end">0.85</text><text transform="translate(1106.75 275.8) rotate(-90)" text-anchor="end">0.90</text><text transform="translate(1130.22 275.8) rotate(-90)" text-anchor="end">0.95</text></g>
<text class="tt" transform="translate(648.3 136.32) rotate(-90)" text-anchor="middle">Quantiles of EPU</text>
<text class="tt" x="908.9" y="313.7" text-anchor="middle">Quantiles of FinS</text>
<text class="cp" x="922.2" y="351.8" text-anchor="middle">b.</text>
<rect x="1155.9" y="30.8" width="11.9" height="231.1" fill="url(#cg)"/>
<path d="M1155.9 261.4h5.35M1167.8 261.4h-5.35M1155.9 209.5h5.35M1167.8 209.5h-5.35M1155.9 158h5.35M1167.8 158h-5.35M1155.9 105.8h5.35M1167.8 105.8h-5.35M1155.9 53.9h5.35M1167.8 53.9h-5.35" stroke="#fff" stroke-opacity="0.65" stroke-width="1"/>
<g class="lg"><text x="1175" y="266">0.0</text><text x="1175" y="214.1">2.5</text><text x="1175" y="162.6">5.0</text><text x="1175" y="110.4">7.5</text><text x="1175" y="58.5">10.0</text></g>
<rect x="62.25" y="407.5" width="454.5" height="262.75" fill="#C1FFC1"/>
<rect x="134.01" y="407.5" width="23.92" height="13.83" fill="#E8C887"/>
<rect x="157.93" y="407.5" width="23.92" height="13.83" fill="#FF2B0C"/>
<rect x="181.86" y="407.5" width="23.92" height="13.83" fill="#F99254"/>
<rect x="205.78" y="407.5" width="23.92" height="13.83" fill="#F60000"/>
<rect x="229.7" y="407.5" width="23.92" height="13.83" fill="#FA8E50"/>
<rect x="253.62" y="407.5" width="23.92" height="13.83" fill="#E6CD8C"/>
<rect x="373.22" y="407.5" width="23.92" height="13.83" fill="#E6CD8C"/>
<rect x="397.14" y="407.5" width="23.92" height="13.83" fill="#EE0001"/>
<rect x="421.07" y="407.5" width="23.92" height="13.83" fill="#FB894C"/>
<rect x="444.99" y="407.5" width="23.92" height="13.83" fill="#FC7F43"/>
<rect x="468.91" y="407.5" width="23.92" height="13.83" fill="#F60000"/>
<rect x="492.83" y="407.5" width="23.92" height="13.83" fill="#FE6933"/>
<rect x="86.17" y="421.33" width="23.92" height="13.83" fill="#ECC07F"/>
<rect x="110.09" y="421.33" width="23.92" height="13.83" fill="#ECC07F"/>
<rect x="134.01" y="421.33" width="23.92" height="13.83" fill="#E8C887"/>
<rect x="157.93" y="421.33" width="23.92" height="13.83" fill="#F1B372"/>
<rect x="181.86" y="421.33" width="23.92" height="13.83" fill="#F5A565"/>
<rect x="205.78" y="421.33" width="23.92" height="13.83" fill="#FF632E"/>
<rect x="229.7" y="421.33" width="23.92" height="13.83" fill="#FA8E50"/>
<rect x="277.54" y="421.33" width="23.92" height="13.83" fill="#ECC07F"/>
<rect x="301.46" y="421.33" width="23.92" height="13.83" fill="#FB894C"/>
<rect x="349.3" y="421.33" width="23.92" height="13.83" fill="#F1B372"/>
<rect x="373.22" y="421.33" width="23.92" height="13.83" fill="#EEBB7A"/>
<rect x="397.14" y="421.33" width="23.92" height="13.83" fill="#BB0002"/>
<rect x="421.07" y="421.33" width="23.92" height="13.83" fill="#F1B372"/>
<rect x="468.91" y="421.33" width="23.92" height="13.83" fill="#FD743B"/>
<rect x="492.83" y="421.33" width="23.92" height="13.83" fill="#FF4017"/>
<rect x="86.17" y="435.16" width="23.92" height="13.83" fill="#FF5626"/>
<rect x="110.09" y="435.16" width="23.92" height="13.83" fill="#FC8448"/>
<rect x="134.01" y="435.16" width="23.92" height="13.83" fill="#F0B776"/>
<rect x="181.86" y="435.16" width="23.92" height="13.83" fill="#F1B372"/>
<rect x="205.78" y="435.16" width="23.92" height="13.83" fill="#F1B372"/>
<rect x="229.7" y="435.16" width="23.92" height="13.83" fill="#F1B372"/>
<rect x="253.62" y="435.16" width="23.92" height="13.83" fill="#EEBB7A"/>
<rect x="277.54" y="435.16" width="23.92" height="13.83" fill="#EEBB7A"/>
<rect x="325.38" y="435.16" width="23.92" height="13.83" fill="#E6CD8C"/>
<rect x="349.3" y="435.16" width="23.92" height="13.83" fill="#F1B372"/>
<rect x="373.22" y="435.16" width="23.92" height="13.83" fill="#FE6933"/>
<rect x="397.14" y="435.16" width="23.92" height="13.83" fill="#F4AA69"/>
<rect x="421.07" y="435.16" width="23.92" height="13.83" fill="#F1B372"/>
<rect x="492.83" y="435.16" width="23.92" height="13.83" fill="#ECC07F"/>
<rect x="62.25" y="448.99" width="23.92" height="13.83" fill="#F60000"/>
<rect x="86.17" y="448.99" width="23.92" height="13.83" fill="#E90001"/>
<rect x="110.09" y="448.99" width="23.92" height="13.83" fill="#F60000"/>
<rect x="134.01" y="448.99" width="23.92" height="13.83" fill="#E90001"/>
<rect x="157.93" y="448.99" width="23.92" height="13.83" fill="#CD0002"/>
<rect x="181.86" y="448.99" width="23.92" height="13.83" fill="#DF0001"/>
<rect x="205.78" y="448.99" width="23.92" height="13.83" fill="#E90001"/>
<rect x="229.7" y="448.99" width="23.92" height="13.83" fill="#E90001"/>
<rect x="253.62" y="448.99" width="23.92" height="13.83" fill="#FF632E"/>
<rect x="277.54" y="448.99" width="23.92" height="13.83" fill="#F4AA69"/>
<rect x="301.46" y="448.99" width="23.92" height="13.83" fill="#FA8E50"/>
<rect x="325.38" y="448.99" width="23.92" height="13.83" fill="#F6A161"/>
<rect x="349.3" y="448.99" width="23.92" height="13.83" fill="#FA8E50"/>
<rect x="373.22" y="448.99" width="23.92" height="13.83" fill="#FF3612"/>
<rect x="397.14" y="448.99" width="23.92" height="13.83" fill="#FC7F43"/>
<rect x="62.25" y="462.82" width="23.92" height="13.83" fill="#FE6F37"/>
<rect x="86.17" y="462.82" width="23.92" height="13.83" fill="#EEBB7A"/>
<rect x="134.01" y="462.82" width="23.92" height="13.83" fill="#E8C887"/>
<rect x="157.93" y="462.82" width="23.92" height="13.83" fill="#FE6933"/>
<rect x="181.86" y="462.82" width="23.92" height="13.83" fill="#F60000"/>
<rect x="205.78" y="462.82" width="23.92" height="13.83" fill="#FE6F37"/>
<rect x="277.54" y="462.82" width="23.92" height="13.83" fill="#EEBB7A"/>
<rect x="373.22" y="462.82" width="23.92" height="13.83" fill="#F0B776"/>
<rect x="397.14" y="462.82" width="23.92" height="13.83" fill="#FD743B"/>
<rect x="444.99" y="462.82" width="23.92" height="13.83" fill="#E6CD8C"/>
<rect x="62.25" y="476.64" width="23.92" height="13.83" fill="#FB894C"/>
<rect x="86.17" y="476.64" width="23.92" height="13.83" fill="#FF3612"/>
<rect x="110.09" y="476.64" width="23.92" height="13.83" fill="#FF5626"/>
<rect x="301.46" y="476.64" width="23.92" height="13.83" fill="#E6CD8C"/>
<rect x="397.14" y="476.64" width="23.92" height="13.83" fill="#F6A161"/>
<rect x="110.09" y="490.47" width="23.92" height="13.83" fill="#EAC483"/>
<rect x="229.7" y="490.47" width="23.92" height="13.83" fill="#F5A565"/>
<rect x="253.62" y="490.47" width="23.92" height="13.83" fill="#FC8448"/>
<rect x="277.54" y="490.47" width="23.92" height="13.83" fill="#FA8E50"/>
<rect x="373.22" y="490.47" width="23.92" height="13.83" fill="#EEBB7A"/>
<rect x="397.14" y="490.47" width="23.92" height="13.83" fill="#EEBB7A"/>
<rect x="277.54" y="504.3" width="23.92" height="13.83" fill="#E6CD8C"/>
<rect x="301.46" y="504.3" width="23.92" height="13.83" fill="#E6CD8C"/>
<rect x="349.3" y="504.3" width="23.92" height="13.83" fill="#EEBB7A"/>
<rect x="397.14" y="504.3" width="23.92" height="13.83" fill="#EEBB7A"/>
<rect x="277.54" y="518.13" width="23.92" height="13.83" fill="#E6CD8C"/>
<rect x="301.46" y="518.13" width="23.92" height="13.83" fill="#EEBB7A"/>
<rect x="349.3" y="518.13" width="23.92" height="13.83" fill="#EEBB7A"/>
<rect x="301.46" y="531.96" width="23.92" height="13.83" fill="#FE6933"/>
<rect x="325.38" y="531.96" width="23.92" height="13.83" fill="#EEBB7A"/>
<rect x="349.3" y="531.96" width="23.92" height="13.83" fill="#FE6F37"/>
<rect x="229.7" y="545.79" width="23.92" height="13.83" fill="#FF5626"/>
<rect x="277.54" y="545.79" width="23.92" height="13.83" fill="#E6CD8C"/>
<rect x="301.46" y="545.79" width="23.92" height="13.83" fill="#8B0000"/>
<rect x="325.38" y="545.79" width="23.92" height="13.83" fill="#EEBB7A"/>
<rect x="349.3" y="545.79" width="23.92" height="13.83" fill="#FE6F37"/>
<rect x="110.09" y="559.62" width="23.92" height="13.83" fill="#EEBB7A"/>
<rect x="229.7" y="559.62" width="23.92" height="13.83" fill="#ECC07F"/>
<rect x="301.46" y="559.62" width="23.92" height="13.83" fill="#EEBB7A"/>
<rect x="325.38" y="559.62" width="23.92" height="13.83" fill="#EEBB7A"/>
<rect x="349.3" y="559.62" width="23.92" height="13.83" fill="#EEBB7A"/>
<rect x="134.01" y="573.45" width="23.92" height="13.83" fill="#E6CD8C"/>
<rect x="157.93" y="573.45" width="23.92" height="13.83" fill="#EEBB7A"/>
<rect x="181.86" y="573.45" width="23.92" height="13.83" fill="#F3AE6D"/>
<rect x="205.78" y="573.45" width="23.92" height="13.83" fill="#FF5626"/>
<rect x="229.7" y="573.45" width="23.92" height="13.83" fill="#FD793F"/>
<rect x="253.62" y="573.45" width="23.92" height="13.83" fill="#F6A161"/>
<rect x="301.46" y="573.45" width="23.92" height="13.83" fill="#EEBB7A"/>
<rect x="325.38" y="573.45" width="23.92" height="13.83" fill="#EEBB7A"/>
<rect x="492.83" y="573.45" width="23.92" height="13.83" fill="#EEBB7A"/>
<rect x="134.01" y="587.28" width="23.92" height="13.83" fill="#E6CD8C"/>
<rect x="325.38" y="587.28" width="23.92" height="13.83" fill="#E6CD8C"/>
<rect x="421.07" y="587.28" width="23.92" height="13.83" fill="#E6CD8C"/>
<rect x="421.07" y="601.11" width="23.92" height="13.83" fill="#ECC07F"/>
<rect x="444.99" y="601.11" width="23.92" height="13.83" fill="#EEBB7A"/>
<rect x="492.83" y="601.11" width="23.92" height="13.83" fill="#EEBB7A"/>
<rect x="325.38" y="614.93" width="23.92" height="13.83" fill="#E6CD8C"/>
<rect x="62.25" y="628.76" width="23.92" height="13.83" fill="#F79C5D"/>
<rect x="181.86" y="628.76" width="23.92" height="13.83" fill="#E6CD8C"/>
<rect x="205.78" y="628.76" width="23.92" height="13.83" fill="#F5A565"/>
<rect x="229.7" y="628.76" width="23.92" height="13.83" fill="#EEBB7A"/>
<rect x="253.62" y="628.76" width="23.92" height="13.83" fill="#F4AA69"/>
<rect x="134.01" y="642.59" width="23.92" height="13.83" fill="#E6CD8C"/>
<rect x="205.78" y="642.59" width="23.92" height="13.83" fill="#E6CD8C"/>
<rect x="349.3" y="642.59" width="23.92" height="13.83" fill="#E6CD8C"/>
<rect x="421.07" y="642.59" width="23.92" height="13.83" fill="#EEBB7A"/>
<rect x="444.99" y="642.59" width="23.92" height="13.83" fill="#E6CD8C"/>
<rect x="134.01" y="656.42" width="23.92" height="13.83" fill="#E6CD8C"/>
<rect x="157.93" y="656.42" width="23.92" height="13.83" fill="#F1B372"/>
<rect x="181.86" y="656.42" width="23.92" height="13.83" fill="#E6CD8C"/>
<rect x="205.78" y="656.42" width="23.92" height="13.83" fill="#E6CD8C"/>
<path d="M62.25 407.5V670.25M62.25 407.5H516.75M86.17 407.5V670.25M62.25 421.33H516.75M110.09 407.5V670.25M62.25 435.16H516.75M134.01 407.5V670.25M62.25 448.99H516.75M157.93 407.5V670.25M62.25 462.82H516.75M181.86 407.5V670.25M62.25 476.64H516.75M205.78 407.5V670.25M62.25 490.47H516.75M229.7 407.5V670.25M62.25 504.3H516.75M253.62 407.5V670.25M62.25 518.13H516.75M277.54 407.5V670.25M62.25 531.96H516.75M301.46 407.5V670.25M62.25 545.79H516.75M325.38 407.5V670.25M62.25 559.62H516.75M349.3 407.5V670.25M62.25 573.45H516.75M373.22 407.5V670.25M62.25 587.28H516.75M397.14 407.5V670.25M62.25 601.11H516.75M421.07 407.5V670.25M62.25 614.93H516.75M444.99 407.5V670.25M62.25 628.76H516.75M468.91 407.5V670.25M62.25 642.59H516.75M492.83 407.5V670.25M62.25 656.42H516.75M516.75 407.5V670.25M62.25 670.25H516.75" stroke="#000" stroke-opacity="0.75" stroke-width="0.9" fill="none"/>
<rect x="62.25" y="407.5" width="454.5" height="262.75" stroke="#000" stroke-opacity="0.55" stroke-width="1" fill="none"/>
<g fill="#000"><use href="#s" x="143.07" y="411.91"/><use href="#s" x="148.87" y="411.91"/><use href="#s" x="166.99" y="411.91"/><use href="#s" x="172.79" y="411.91"/><use href="#s" x="190.92" y="411.91"/><use href="#s" x="196.72" y="411.91"/><use href="#s" x="214.84" y="411.91"/><use href="#s" x="220.64" y="411.91"/><use href="#s" x="238.76" y="411.91"/><use href="#s" x="244.56" y="411.91"/><use href="#s" x="265.58" y="411.91"/><use href="#s" x="385.18" y="411.91"/><use href="#s" x="406.21" y="411.91"/><use href="#s" x="412.01" y="411.91"/><use href="#s" x="430.13" y="411.91"/><use href="#s" x="435.93" y="411.91"/><use href="#s" x="454.05" y="411.91"/><use href="#s" x="459.85" y="411.91"/><use href="#s" x="477.97" y="411.91"/><use href="#s" x="483.77" y="411.91"/><use href="#s" x="501.89" y="411.91"/><use href="#s" x="507.69" y="411.91"/><use href="#s" x="95.23" y="425.74"/><use href="#s" x="101.03" y="425.74"/><use href="#s" x="119.15" y="425.74"/><use href="#s" x="124.95" y="425.74"/><use href="#s" x="145.97" y="425.74"/><use href="#s" x="166.99" y="425.74"/><use href="#s" x="172.79" y="425.74"/><use href="#s" x="190.92" y="425.74"/><use href="#s" x="196.72" y="425.74"/><use href="#s" x="214.84" y="425.74"/><use href="#s" x="220.64" y="425.74"/><use href="#s" x="238.76" y="425.74"/><use href="#s" x="244.56" y="425.74"/><use href="#s" x="286.6" y="425.74"/><use href="#s" x="292.4" y="425.74"/><use href="#s" x="310.52" y="425.74"/><use href="#s" x="316.32" y="425.74"/><use href="#s" x="358.36" y="425.74"/><use href="#s" x="364.16" y="425.74"/><use href="#s" x="382.28" y="425.74"/><use href="#s" x="388.08" y="425.74"/><use href="#s" x="406.21" y="425.74"/><use href="#s" x="412.01" y="425.74"/><use href="#s" x="430.13" y="425.74"/><use href="#s" x="435.93" y="425.74"/><use href="#s" x="477.97" y="425.74"/><use href="#s" x="483.77" y="425.74"/><use href="#s" x="501.89" y="425.74"/><use href="#s" x="507.69" y="425.74"/><use href="#s" x="95.23" y="439.57"/><use href="#s" x="101.03" y="439.57"/><use href="#s" x="119.15" y="439.57"/><use href="#s" x="124.95" y="439.57"/><use href="#s" x="143.07" y="439.57"/><use href="#s" x="148.87" y="439.57"/><use href="#s" x="190.92" y="439.57"/><use href="#s" x="196.72" y="439.57"/><use href="#s" x="214.84" y="439.57"/><use href="#s" x="220.64" y="439.57"/><use href="#s" x="238.76" y="439.57"/><use href="#s" x="244.56" y="439.57"/><use href="#s" x="262.68" y="439.57"/><use href="#s" x="268.48" y="439.57"/><use href="#s" x="286.6" y="439.57"/><use href="#s" x="292.4" y="439.57"/><use href="#s" x="337.34" y="439.57"/><use href="#s" x="358.36" y="439.57"/><use href="#s" x="364.16" y="439.57"/><use href="#s" x="382.28" y="439.57"/><use href="#s" x="388.08" y="439.57"/><use href="#s" x="406.21" y="439.57"/><use href="#s" x="412.01" y="439.57"/><use href="#s" x="430.13" y="439.57"/><use href="#s" x="435.93" y="439.57"/><use href="#s" x="501.89" y="439.57"/><use href="#s" x="507.69" y="439.57"/><use href="#s" x="71.31" y="453.4"/><use href="#s" x="77.11" y="453.4"/><use href="#s" x="95.23" y="453.4"/><use href="#s" x="101.03" y="453.4"/><use href="#s" x="119.15" y="453.4"/><use href="#s" x="124.95" y="453.4"/><use href="#s" x="143.07" y="453.4"/><use href="#s" x="148.87" y="453.4"/><use href="#s" x="166.99" y="453.4"/><use href="#s" x="172.79" y="453.4"/><use href="#s" x="190.92" y="453.4"/><use href="#s" x="196.72" y="453.4"/><use href="#s" x="214.84" y="453.4"/><use href="#s" x="220.64" y="453.4"/><use href="#s" x="238.76" y="453.4"/><use href="#s" x="244.56" y="453.4"/><use href="#s" x="262.68" y="453.4"/><use href="#s" x="268.48" y="453.4"/><use href="#s" x="286.6" y="453.4"/><use href="#s" x="292.4" y="453.4"/><use href="#s" x="310.52" y="453.4"/><use href="#s" x="316.32" y="453.4"/><use href="#s" x="334.44" y="453.4"/><use href="#s" x="340.24" y="453.4"/><use href="#s" x="358.36" y="453.4"/><use href="#s" x="364.16" y="453.4"/><use href="#s" x="382.28" y="453.4"/><use href="#s" x="388.08" y="453.4"/><use href="#s" x="406.21" y="453.4"/><use href="#s" x="412.01" y="453.4"/><use href="#s" x="71.31" y="467.23"/><use href="#s" x="77.11" y="467.23"/><use href="#s" x="95.23" y="467.23"/><use href="#s" x="101.03" y="467.23"/><use href="#s" x="145.97" y="467.23"/><use href="#s" x="166.99" y="467.23"/><use href="#s" x="172.79" y="467.23"/><use href="#s" x="190.92" y="467.23"/><use href="#s" x="196.72" y="467.23"/><use href="#s" x="214.84" y="467.23"/><use href="#s" x="220.64" y="467.23"/><use href="#s" x="286.6" y="467.23"/><use href="#s" x="292.4" y="467.23"/><use href="#s" x="382.28" y="467.23"/><use href="#s" x="388.08" y="467.23"/><use href="#s" x="406.21" y="467.23"/><use href="#s" x="412.01" y="467.23"/><use href="#s" x="456.95" y="467.23"/><use href="#s" x="71.31" y="481.06"/><use href="#s" x="77.11" y="481.06"/><use href="#s" x="95.23" y="481.06"/><use href="#s" x="101.03" y="481.06"/><use href="#s" x="119.15" y="481.06"/><use href="#s" x="124.95" y="481.06"/><use href="#s" x="313.42" y="481.06"/><use href="#s" x="406.21" y="481.06"/><use href="#s" x="412.01" y="481.06"/><use href="#s" x="119.15" y="494.89"/><use href="#s" x="124.95" y="494.89"/><use href="#s" x="238.76" y="494.89"/><use href="#s" x="244.56" y="494.89"/><use href="#s" x="262.68" y="494.89"/><use href="#s" x="268.48" y="494.89"/><use href="#s" x="286.6" y="494.89"/><use href="#s" x="292.4" y="494.89"/><use href="#s" x="382.28" y="494.89"/><use href="#s" x="388.08" y="494.89"/><use href="#s" x="406.21" y="494.89"/><use href="#s" x="412.01" y="494.89"/><use href="#s" x="289.5" y="508.72"/><use href="#s" x="313.42" y="508.72"/><use href="#s" x="358.36" y="508.72"/><use href="#s" x="364.16" y="508.72"/><use href="#s" x="406.21" y="508.72"/><use href="#s" x="412.01" y="508.72"/><use href="#s" x="289.5" y="522.55"/><use href="#s" x="310.52" y="522.55"/><use href="#s" x="316.32" y="522.55"/><use href="#s" x="358.36" y="522.55"/><use href="#s" x="364.16" y="522.55"/><use href="#s" x="310.52" y="536.38"/><use href="#s" x="316.32" y="536.38"/><use href="#s" x="334.44" y="536.38"/><use href="#s" x="340.24" y="536.38"/><use href="#s" x="358.36" y="536.38"/><use href="#s" x="364.16" y="536.38"/><use href="#s" x="238.76" y="550.2"/><use href="#s" x="244.56" y="550.2"/><use href="#s" x="289.5" y="550.2"/><use href="#s" x="310.52" y="550.2"/><use href="#s" x="316.32" y="550.2"/><use href="#s" x="334.44" y="550.2"/><use href="#s" x="340.24" y="550.2"/><use href="#s" x="358.36" y="550.2"/><use href="#s" x="364.16" y="550.2"/><use href="#s" x="119.15" y="564.03"/><use href="#s" x="124.95" y="564.03"/><use href="#s" x="238.76" y="564.03"/><use href="#s" x="244.56" y="564.03"/><use href="#s" x="310.52" y="564.03"/><use href="#s" x="316.32" y="564.03"/><use href="#s" x="334.44" y="564.03"/><use href="#s" x="340.24" y="564.03"/><use href="#s" x="358.36" y="564.03"/><use href="#s" x="364.16" y="564.03"/><use href="#s" x="145.97" y="577.86"/><use href="#s" x="166.99" y="577.86"/><use href="#s" x="172.79" y="577.86"/><use href="#s" x="190.92" y="577.86"/><use href="#s" x="196.72" y="577.86"/><use href="#s" x="214.84" y="577.86"/><use href="#s" x="220.64" y="577.86"/><use href="#s" x="238.76" y="577.86"/><use href="#s" x="244.56" y="577.86"/><use href="#s" x="262.68" y="577.86"/><use href="#s" x="268.48" y="577.86"/><use href="#s" x="310.52" y="577.86"/><use href="#s" x="316.32" y="577.86"/><use href="#s" x="334.44" y="577.86"/><use href="#s" x="340.24" y="577.86"/><use href="#s" x="501.89" y="577.86"/><use href="#s" x="507.69" y="577.86"/><use href="#s" x="145.97" y="591.69"/><use href="#s" x="337.34" y="591.69"/><use href="#s" x="433.03" y="591.69"/><use href="#s" x="430.13" y="605.52"/><use href="#s" x="435.93" y="605.52"/><use href="#s" x="454.05" y="605.52"/><use href="#s" x="459.85" y="605.52"/><use href="#s" x="501.89" y="605.52"/><use href="#s" x="507.69" y="605.52"/><use href="#s" x="337.34" y="619.35"/><use href="#s" x="71.31" y="633.18"/><use href="#s" x="77.11" y="633.18"/><use href="#s" x="193.82" y="633.18"/><use href="#s" x="214.84" y="633.18"/><use href="#s" x="220.64" y="633.18"/><use href="#s" x="238.76" y="633.18"/><use href="#s" x="244.56" y="633.18"/><use href="#s" x="262.68" y="633.18"/><use href="#s" x="268.48" y="633.18"/><use href="#s" x="145.97" y="647.01"/><use href="#s" x="217.74" y="647.01"/><use href="#s" x="361.26" y="647.01"/><use href="#s" x="430.13" y="647.01"/><use href="#s" x="435.93" y="647.01"/><use href="#s" x="456.95" y="647.01"/><use href="#s" x="145.97" y="660.84"/><use href="#s" x="166.99" y="660.84"/><use href="#s" x="172.79" y="660.84"/><use href="#s" x="193.82" y="660.84"/><use href="#s" x="217.74" y="660.84"/></g>
<g class="al"><text x="53.05" y="419.31" text-anchor="end">0.95</text><text x="53.05" y="433.14" text-anchor="end">0.90</text><text x="53.05" y="446.97" text-anchor="end">0.85</text><text x="53.05" y="460.8" text-anchor="end">0.80</text><text x="53.05" y="474.63" text-anchor="end">0.75</text><text x="53.05" y="488.46" text-anchor="end">0.70</text><text x="53.05" y="502.29" text-anchor="end">0.65</text><text x="53.05" y="516.12" text-anchor="end">0.60</text><text x="53.05" y="529.95" text-anchor="end">0.55</text><text x="53.05" y="543.77" text-anchor="end">0.50</text><text x="53.05" y="557.6" text-anchor="end">0.45</text><text x="53.05" y="571.43" text-anchor="end">0.40</text><text x="53.05" y="585.26" text-anchor="end">0.35</text><text x="53.05" y="599.09" text-anchor="end">0.30</text><text x="53.05" y="612.92" text-anchor="end">0.25</text><text x="53.05" y="626.75" text-anchor="end">0.20</text><text x="53.05" y="640.58" text-anchor="end">0.15</text><text x="53.05" y="654.41" text-anchor="end">0.10</text><text x="53.05" y="668.24" text-anchor="end">0.05</text><text transform="translate(83.91 678.65) rotate(-90)" text-anchor="end">0.05</text><text transform="translate(107.83 678.65) rotate(-90)" text-anchor="end">0.10</text><text transform="translate(131.75 678.65) rotate(-90)" text-anchor="end">0.15</text><text transform="translate(155.67 678.65) rotate(-90)" text-anchor="end">0.20</text><text transform="translate(179.59 678.65) rotate(-90)" text-anchor="end">0.25</text><text transform="translate(203.52 678.65) rotate(-90)" text-anchor="end">0.30</text><text transform="translate(227.44 678.65) rotate(-90)" text-anchor="end">0.35</text><text transform="translate(251.36 678.65) rotate(-90)" text-anchor="end">0.40</text><text transform="translate(275.28 678.65) rotate(-90)" text-anchor="end">0.45</text><text transform="translate(299.2 678.65) rotate(-90)" text-anchor="end">0.50</text><text transform="translate(323.12 678.65) rotate(-90)" text-anchor="end">0.55</text><text transform="translate(347.04 678.65) rotate(-90)" text-anchor="end">0.60</text><text transform="translate(370.96 678.65) rotate(-90)" text-anchor="end">0.65</text><text transform="translate(394.88 678.65) rotate(-90)" text-anchor="end">0.70</text><text transform="translate(418.81 678.65) rotate(-90)" text-anchor="end">0.75</text><text transform="translate(442.73 678.65) rotate(-90)" text-anchor="end">0.80</text><text transform="translate(466.65 678.65) rotate(-90)" text-anchor="end">0.85</text><text transform="translate(490.57 678.65) rotate(-90)" text-anchor="end">0.90</text><text transform="translate(514.49 678.65) rotate(-90)" text-anchor="end">0.95</text></g>
<text class="tt" transform="translate(24.4 538.88) rotate(-90)" text-anchor="middle">Quantiles of TNI</text>
<text class="tt" x="289.4" y="715.7" text-anchor="middle">Quantiles of FinS</text>
<text class="cp" x="289.4" y="744.3" text-anchor="middle">c.</text>
<rect x="541.7" y="434.2" width="11.5" height="229.5" fill="url(#cg)"/>
<path d="M541.7 664h5.15M553.2 664h-5.15M541.7 604.2h5.15M553.2 604.2h-5.15M541.7 543.6h5.15M553.2 543.6h-5.15M541.7 482.2h5.15M553.2 482.2h-5.15" stroke="#fff" stroke-opacity="0.65" stroke-width="1"/>
<g class="lg"><text x="561.2" y="668.6">0</text><text x="561.2" y="608.8">5</text><text x="561.2" y="548.2">10</text><text x="561.2" y="486.8">15</text></g>
<rect x="687.6" y="406.4" width="454.9" height="262.1" fill="#C1FFC1"/>
<rect x="903.08" y="406.4" width="23.94" height="13.79" fill="#E6CD8C"/>
<rect x="927.02" y="406.4" width="23.94" height="13.79" fill="#FD743B"/>
<rect x="950.96" y="406.4" width="23.94" height="13.79" fill="#F1B372"/>
<rect x="783.37" y="420.19" width="23.94" height="13.79" fill="#FF5626"/>
<rect x="879.14" y="420.19" width="23.94" height="13.79" fill="#E6CD8C"/>
<rect x="903.08" y="420.19" width="23.94" height="13.79" fill="#E6CD8C"/>
<rect x="927.02" y="420.19" width="23.94" height="13.79" fill="#FC7F43"/>
<rect x="974.91" y="420.19" width="23.94" height="13.79" fill="#ECC07F"/>
<rect x="879.14" y="433.99" width="23.94" height="13.79" fill="#E6CD8C"/>
<rect x="903.08" y="433.99" width="23.94" height="13.79" fill="#F1B372"/>
<rect x="927.02" y="433.99" width="23.94" height="13.79" fill="#F6A161"/>
<rect x="974.91" y="433.99" width="23.94" height="13.79" fill="#ECC07F"/>
<rect x="687.6" y="447.78" width="23.94" height="13.79" fill="#F1B372"/>
<rect x="783.37" y="447.78" width="23.94" height="13.79" fill="#EAC483"/>
<rect x="903.08" y="447.78" width="23.94" height="13.79" fill="#E6CD8C"/>
<rect x="927.02" y="447.78" width="23.94" height="13.79" fill="#EE0001"/>
<rect x="687.6" y="461.58" width="23.94" height="13.79" fill="#FC7F43"/>
<rect x="903.08" y="461.58" width="23.94" height="13.79" fill="#ECC07F"/>
<rect x="927.02" y="461.58" width="23.94" height="13.79" fill="#EE0001"/>
<rect x="974.91" y="461.58" width="23.94" height="13.79" fill="#E6CD8C"/>
<rect x="687.6" y="475.37" width="23.94" height="13.79" fill="#EAC483"/>
<rect x="927.02" y="475.37" width="23.94" height="13.79" fill="#FF5D2A"/>
<rect x="711.54" y="489.17" width="23.94" height="13.79" fill="#FE6933"/>
<rect x="735.48" y="489.17" width="23.94" height="13.79" fill="#F6A161"/>
<rect x="759.43" y="489.17" width="23.94" height="13.79" fill="#FC8448"/>
<rect x="783.37" y="489.17" width="23.94" height="13.79" fill="#FC8448"/>
<rect x="807.31" y="489.17" width="23.94" height="13.79" fill="#FA8E50"/>
<rect x="855.19" y="489.17" width="23.94" height="13.79" fill="#ECC07F"/>
<rect x="879.14" y="489.17" width="23.94" height="13.79" fill="#FC7F43"/>
<rect x="927.02" y="489.17" width="23.94" height="13.79" fill="#F0B776"/>
<rect x="974.91" y="489.17" width="23.94" height="13.79" fill="#F4AA69"/>
<rect x="998.85" y="489.17" width="23.94" height="13.79" fill="#E8C887"/>
<rect x="711.54" y="502.96" width="23.94" height="13.79" fill="#F1B372"/>
<rect x="735.48" y="502.96" width="23.94" height="13.79" fill="#F5A565"/>
<rect x="759.43" y="502.96" width="23.94" height="13.79" fill="#FE6933"/>
<rect x="783.37" y="502.96" width="23.94" height="13.79" fill="#F99254"/>
<rect x="807.31" y="502.96" width="23.94" height="13.79" fill="#FF5626"/>
<rect x="879.14" y="502.96" width="23.94" height="13.79" fill="#FF481C"/>
<rect x="1094.62" y="502.96" width="23.94" height="13.79" fill="#E6CD8C"/>
<rect x="783.37" y="516.76" width="23.94" height="13.79" fill="#E6CD8C"/>
<rect x="927.02" y="516.76" width="23.94" height="13.79" fill="#F0B776"/>
<rect x="1094.62" y="516.76" width="23.94" height="13.79" fill="#F1B372"/>
<rect x="711.54" y="530.55" width="23.94" height="13.79" fill="#ECC07F"/>
<rect x="735.48" y="530.55" width="23.94" height="13.79" fill="#ECC07F"/>
<rect x="879.14" y="530.55" width="23.94" height="13.79" fill="#FC7F43"/>
<rect x="927.02" y="530.55" width="23.94" height="13.79" fill="#FF4F21"/>
<rect x="1118.56" y="530.55" width="23.94" height="13.79" fill="#FD743B"/>
<rect x="927.02" y="544.35" width="23.94" height="13.79" fill="#F1B372"/>
<rect x="950.96" y="544.35" width="23.94" height="13.79" fill="#E8C887"/>
<rect x="1118.56" y="544.35" width="23.94" height="13.79" fill="#F0B776"/>
<rect x="711.54" y="558.14" width="23.94" height="13.79" fill="#FA8E50"/>
<rect x="927.02" y="558.14" width="23.94" height="13.79" fill="#F4AA69"/>
<rect x="687.6" y="571.94" width="23.94" height="13.79" fill="#E6CD8C"/>
<rect x="735.48" y="571.94" width="23.94" height="13.79" fill="#F0B776"/>
<rect x="759.43" y="571.94" width="23.94" height="13.79" fill="#E6CD8C"/>
<rect x="807.31" y="571.94" width="23.94" height="13.79" fill="#E8C887"/>
<rect x="927.02" y="571.94" width="23.94" height="13.79" fill="#F4AA69"/>
<rect x="1070.67" y="571.94" width="23.94" height="13.79" fill="#F1B372"/>
<rect x="711.54" y="585.73" width="23.94" height="13.79" fill="#E6CD8C"/>
<rect x="903.08" y="585.73" width="23.94" height="13.79" fill="#E6CD8C"/>
<rect x="927.02" y="585.73" width="23.94" height="13.79" fill="#FF3612"/>
<rect x="1070.67" y="585.73" width="23.94" height="13.79" fill="#F1B372"/>
<rect x="687.6" y="599.53" width="23.94" height="13.79" fill="#F0B776"/>
<rect x="735.48" y="599.53" width="23.94" height="13.79" fill="#F4AA69"/>
<rect x="879.14" y="599.53" width="23.94" height="13.79" fill="#F4AA69"/>
<rect x="903.08" y="599.53" width="23.94" height="13.79" fill="#FB0000"/>
<rect x="927.02" y="599.53" width="23.94" height="13.79" fill="#FB0000"/>
<rect x="1022.79" y="599.53" width="23.94" height="13.79" fill="#F4AA69"/>
<rect x="735.48" y="613.32" width="23.94" height="13.79" fill="#E6CD8C"/>
<rect x="783.37" y="613.32" width="23.94" height="13.79" fill="#F89758"/>
<rect x="879.14" y="613.32" width="23.94" height="13.79" fill="#F4AA69"/>
<rect x="903.08" y="613.32" width="23.94" height="13.79" fill="#F4AA69"/>
<rect x="927.02" y="613.32" width="23.94" height="13.79" fill="#900001"/>
<rect x="950.96" y="613.32" width="23.94" height="13.79" fill="#E6CD8C"/>
<rect x="998.85" y="613.32" width="23.94" height="13.79" fill="#F4AA69"/>
<rect x="1046.73" y="613.32" width="23.94" height="13.79" fill="#F4AA69"/>
<rect x="687.6" y="627.12" width="23.94" height="13.79" fill="#FC7F43"/>
<rect x="711.54" y="627.12" width="23.94" height="13.79" fill="#F5A565"/>
<rect x="735.48" y="627.12" width="23.94" height="13.79" fill="#FE6F37"/>
<rect x="759.43" y="627.12" width="23.94" height="13.79" fill="#E6CD8C"/>
<rect x="879.14" y="627.12" width="23.94" height="13.79" fill="#EEBB7A"/>
<rect x="903.08" y="627.12" width="23.94" height="13.79" fill="#FB894C"/>
<rect x="927.02" y="627.12" width="23.94" height="13.79" fill="#900001"/>
<rect x="1046.73" y="627.12" width="23.94" height="13.79" fill="#E6CD8C"/>
<rect x="687.6" y="640.91" width="23.94" height="13.79" fill="#F1B372"/>
<rect x="711.54" y="640.91" width="23.94" height="13.79" fill="#F3AE6D"/>
<rect x="759.43" y="640.91" width="23.94" height="13.79" fill="#E6CD8C"/>
<rect x="903.08" y="640.91" width="23.94" height="13.79" fill="#FC7F43"/>
<rect x="927.02" y="640.91" width="23.94" height="13.79" fill="#990001"/>
<rect x="711.54" y="654.71" width="23.94" height="13.79" fill="#FE6933"/>
<rect x="735.48" y="654.71" width="23.94" height="13.79" fill="#EEBB7A"/>
<rect x="759.43" y="654.71" width="23.94" height="13.79" fill="#FA8E50"/>
<path d="M687.6 406.4V668.5M687.6 406.4H1142.5M711.54 406.4V668.5M687.6 420.19H1142.5M735.48 406.4V668.5M687.6 433.99H1142.5M759.43 406.4V668.5M687.6 447.78H1142.5M783.37 406.4V668.5M687.6 461.58H1142.5M807.31 406.4V668.5M687.6 475.37H1142.5M831.25 406.4V668.5M687.6 489.17H1142.5M855.19 406.4V668.5M687.6 502.96H1142.5M879.14 406.4V668.5M687.6 516.76H1142.5M903.08 406.4V668.5M687.6 530.55H1142.5M927.02 406.4V668.5M687.6 544.35H1142.5M950.96 406.4V668.5M687.6 558.14H1142.5M974.91 406.4V668.5M687.6 571.94H1142.5M998.85 406.4V668.5M687.6 585.73H1142.5M1022.79 406.4V668.5M687.6 599.53H1142.5M1046.73 406.4V668.5M687.6 613.32H1142.5M1070.67 406.4V668.5M687.6 627.12H1142.5M1094.62 406.4V668.5M687.6 640.91H1142.5M1118.56 406.4V668.5M687.6 654.71H1142.5M1142.5 406.4V668.5M687.6 668.5H1142.5" stroke="#000" stroke-opacity="0.75" stroke-width="0.9" fill="none"/>
<rect x="687.6" y="406.4" width="454.9" height="262.1" stroke="#000" stroke-opacity="0.55" stroke-width="1" fill="none"/>
<g fill="#000"><use href="#s" x="915.05" y="410.8"/><use href="#s" x="936.09" y="410.8"/><use href="#s" x="941.89" y="410.8"/><use href="#s" x="960.03" y="410.8"/><use href="#s" x="965.83" y="410.8"/><use href="#s" x="792.44" y="424.59"/><use href="#s" x="798.24" y="424.59"/><use href="#s" x="891.11" y="424.59"/><use href="#s" x="915.05" y="424.59"/><use href="#s" x="936.09" y="424.59"/><use href="#s" x="941.89" y="424.59"/><use href="#s" x="983.98" y="424.59"/><use href="#s" x="989.78" y="424.59"/><use href="#s" x="891.11" y="438.39"/><use href="#s" x="912.15" y="438.39"/><use href="#s" x="917.95" y="438.39"/><use href="#s" x="936.09" y="438.39"/><use href="#s" x="941.89" y="438.39"/><use href="#s" x="983.98" y="438.39"/><use href="#s" x="989.78" y="438.39"/><use href="#s" x="696.67" y="452.18"/><use href="#s" x="702.47" y="452.18"/><use href="#s" x="792.44" y="452.18"/><use href="#s" x="798.24" y="452.18"/><use href="#s" x="915.05" y="452.18"/><use href="#s" x="936.09" y="452.18"/><use href="#s" x="941.89" y="452.18"/><use href="#s" x="696.67" y="465.98"/><use href="#s" x="702.47" y="465.98"/><use href="#s" x="912.15" y="465.98"/><use href="#s" x="917.95" y="465.98"/><use href="#s" x="936.09" y="465.98"/><use href="#s" x="941.89" y="465.98"/><use href="#s" x="986.88" y="465.98"/><use href="#s" x="696.67" y="479.77"/><use href="#s" x="702.47" y="479.77"/><use href="#s" x="936.09" y="479.77"/><use href="#s" x="941.89" y="479.77"/><use href="#s" x="720.61" y="493.57"/><use href="#s" x="726.41" y="493.57"/><use href="#s" x="744.56" y="493.57"/><use href="#s" x="750.36" y="493.57"/><use href="#s" x="768.5" y="493.57"/><use href="#s" x="774.3" y="493.57"/><use href="#s" x="792.44" y="493.57"/><use href="#s" x="798.24" y="493.57"/><use href="#s" x="816.38" y="493.57"/><use href="#s" x="822.18" y="493.57"/><use href="#s" x="864.27" y="493.57"/><use href="#s" x="870.07" y="493.57"/><use href="#s" x="888.21" y="493.57"/><use href="#s" x="894.01" y="493.57"/><use href="#s" x="936.09" y="493.57"/><use href="#s" x="941.89" y="493.57"/><use href="#s" x="983.98" y="493.57"/><use href="#s" x="989.78" y="493.57"/><use href="#s" x="1010.82" y="493.57"/><use href="#s" x="720.61" y="507.36"/><use href="#s" x="726.41" y="507.36"/><use href="#s" x="744.56" y="507.36"/><use href="#s" x="750.36" y="507.36"/><use href="#s" x="768.5" y="507.36"/><use href="#s" x="774.3" y="507.36"/><use href="#s" x="792.44" y="507.36"/><use href="#s" x="798.24" y="507.36"/><use href="#s" x="816.38" y="507.36"/><use href="#s" x="822.18" y="507.36"/><use href="#s" x="888.21" y="507.36"/><use href="#s" x="894.01" y="507.36"/><use href="#s" x="1106.59" y="507.36"/><use href="#s" x="795.34" y="521.16"/><use href="#s" x="936.09" y="521.16"/><use href="#s" x="941.89" y="521.16"/><use href="#s" x="1103.69" y="521.16"/><use href="#s" x="1109.49" y="521.16"/><use href="#s" x="720.61" y="534.95"/><use href="#s" x="726.41" y="534.95"/><use href="#s" x="744.56" y="534.95"/><use href="#s" x="750.36" y="534.95"/><use href="#s" x="888.21" y="534.95"/><use href="#s" x="894.01" y="534.95"/><use href="#s" x="936.09" y="534.95"/><use href="#s" x="941.89" y="534.95"/><use href="#s" x="1127.63" y="534.95"/><use href="#s" x="1133.43" y="534.95"/><use href="#s" x="936.09" y="548.74"/><use href="#s" x="941.89" y="548.74"/><use href="#s" x="962.93" y="548.74"/><use href="#s" x="1127.63" y="548.74"/><use href="#s" x="1133.43" y="548.74"/><use href="#s" x="720.61" y="562.54"/><use href="#s" x="726.41" y="562.54"/><use href="#s" x="936.09" y="562.54"/><use href="#s" x="941.89" y="562.54"/><use href="#s" x="699.57" y="576.33"/><use href="#s" x="744.56" y="576.33"/><use href="#s" x="750.36" y="576.33"/><use href="#s" x="771.4" y="576.33"/><use href="#s" x="819.28" y="576.33"/><use href="#s" x="936.09" y="576.33"/><use href="#s" x="941.89" y="576.33"/><use href="#s" x="1079.74" y="576.33"/><use href="#s" x="1085.54" y="576.33"/><use href="#s" x="723.51" y="590.13"/><use href="#s" x="915.05" y="590.13"/><use href="#s" x="936.09" y="590.13"/><use href="#s" x="941.89" y="590.13"/><use href="#s" x="1079.74" y="590.13"/><use href="#s" x="1085.54" y="590.13"/><use href="#s" x="696.67" y="603.92"/><use href="#s" x="702.47" y="603.92"/><use href="#s" x="744.56" y="603.92"/><use href="#s" x="750.36" y="603.92"/><use href="#s" x="888.21" y="603.92"/><use href="#s" x="894.01" y="603.92"/><use href="#s" x="912.15" y="603.92"/><use href="#s" x="917.95" y="603.92"/><use href="#s" x="936.09" y="603.92"/><use href="#s" x="941.89" y="603.92"/><use href="#s" x="1031.86" y="603.92"/><use href="#s" x="1037.66" y="603.92"/><use href="#s" x="747.46" y="617.72"/><use href="#s" x="792.44" y="617.72"/><use href="#s" x="798.24" y="617.72"/><use href="#s" x="888.21" y="617.72"/><use href="#s" x="894.01" y="617.72"/><use href="#s" x="912.15" y="617.72"/><use href="#s" x="917.95" y="617.72"/><use href="#s" x="936.09" y="617.72"/><use href="#s" x="941.89" y="617.72"/><use href="#s" x="962.93" y="617.72"/><use href="#s" x="1007.92" y="617.72"/><use href="#s" x="1013.72" y="617.72"/><use href="#s" x="1055.8" y="617.72"/><use href="#s" x="1061.6" y="617.72"/><use href="#s" x="696.67" y="631.51"/><use href="#s" x="702.47" y="631.51"/><use href="#s" x="720.61" y="631.51"/><use href="#s" x="726.41" y="631.51"/><use href="#s" x="744.56" y="631.51"/><use href="#s" x="750.36" y="631.51"/><use href="#s" x="771.4" y="631.51"/><use href="#s" x="888.21" y="631.51"/><use href="#s" x="894.01" y="631.51"/><use href="#s" x="912.15" y="631.51"/><use href="#s" x="917.95" y="631.51"/><use href="#s" x="936.09" y="631.51"/><use href="#s" x="941.89" y="631.51"/><use href="#s" x="1058.7" y="631.51"/><use href="#s" x="696.67" y="645.31"/><use href="#s" x="702.47" y="645.31"/><use href="#s" x="720.61" y="645.31"/><use href="#s" x="726.41" y="645.31"/><use href="#s" x="771.4" y="645.31"/><use href="#s" x="912.15" y="645.31"/><use href="#s" x="917.95" y="645.31"/><use href="#s" x="936.09" y="645.31"/><use href="#s" x="941.89" y="645.31"/><use href="#s" x="720.61" y="659.1"/><use href="#s" x="726.41" y="659.1"/><use href="#s" x="744.56" y="659.1"/><use href="#s" x="750.36" y="659.1"/><use href="#s" x="768.5" y="659.1"/><use href="#s" x="774.3" y="659.1"/></g>
<g class="al"><text x="678.4" y="418.2" text-anchor="end">0.95</text><text x="678.4" y="431.99" text-anchor="end">0.90</text><text x="678.4" y="445.79" text-anchor="end">0.85</text><text x="678.4" y="459.58" text-anchor="end">0.80</text><text x="678.4" y="473.38" text-anchor="end">0.75</text><text x="678.4" y="487.17" text-anchor="end">0.70</text><text x="678.4" y="500.97" text-anchor="end">0.65</text><text x="678.4" y="514.76" text-anchor="end">0.60</text><text x="678.4" y="528.56" text-anchor="end">0.55</text><text x="678.4" y="542.35" text-anchor="end">0.50</text><text x="678.4" y="556.14" text-anchor="end">0.45</text><text x="678.4" y="569.94" text-anchor="end">0.40</text><text x="678.4" y="583.73" text-anchor="end">0.35</text><text x="678.4" y="597.53" text-anchor="end">0.30</text><text x="678.4" y="611.32" text-anchor="end">0.25</text><text x="678.4" y="625.12" text-anchor="end">0.20</text><text x="678.4" y="638.91" text-anchor="end">0.15</text><text x="678.4" y="652.71" text-anchor="end">0.10</text><text x="678.4" y="666.5" text-anchor="end">0.05</text><text transform="translate(709.27 676.9) rotate(-90)" text-anchor="end">0.05</text><text transform="translate(733.21 676.9) rotate(-90)" text-anchor="end">0.10</text><text transform="translate(757.16 676.9) rotate(-90)" text-anchor="end">0.15</text><text transform="translate(781.1 676.9) rotate(-90)" text-anchor="end">0.20</text><text transform="translate(805.04 676.9) rotate(-90)" text-anchor="end">0.25</text><text transform="translate(828.98 676.9) rotate(-90)" text-anchor="end">0.30</text><text transform="translate(852.92 676.9) rotate(-90)" text-anchor="end">0.35</text><text transform="translate(876.87 676.9) rotate(-90)" text-anchor="end">0.40</text><text transform="translate(900.81 676.9) rotate(-90)" text-anchor="end">0.45</text><text transform="translate(924.75 676.9) rotate(-90)" text-anchor="end">0.50</text><text transform="translate(948.69 676.9) rotate(-90)" text-anchor="end">0.55</text><text transform="translate(972.63 676.9) rotate(-90)" text-anchor="end">0.60</text><text transform="translate(996.58 676.9) rotate(-90)" text-anchor="end">0.65</text><text transform="translate(1020.52 676.9) rotate(-90)" text-anchor="end">0.70</text><text transform="translate(1044.46 676.9) rotate(-90)" text-anchor="end">0.75</text><text transform="translate(1068.4 676.9) rotate(-90)" text-anchor="end">0.80</text><text transform="translate(1092.34 676.9) rotate(-90)" text-anchor="end">0.85</text><text transform="translate(1116.29 676.9) rotate(-90)" text-anchor="end">0.90</text><text transform="translate(1140.23 676.9) rotate(-90)" text-anchor="end">0.95</text></g>
<text class="tt" transform="translate(649.4 537.45) rotate(-90)" text-anchor="middle">Quantiles of RQ</text>
<text class="tt" x="914.7" y="714.5" text-anchor="middle">Quantiles of FinS</text>
<text class="cp" x="922" y="744.5" text-anchor="middle">d.</text>
<rect x="1167" y="432.6" width="11.5" height="230.1" fill="url(#cg)"/>
<path d="M1167 662.3h5.15M1178.5 662.3h-5.15M1167 602.5h5.15M1178.5 602.5h-5.15M1167 541.8h5.15M1178.5 541.8h-5.15M1167 481.4h5.15M1178.5 481.4h-5.15" stroke="#fff" stroke-opacity="0.65" stroke-width="1"/>
<g class="lg"><text x="1185.8" y="666.9">0</text><text x="1185.8" y="607.1">5</text><text x="1185.8" y="546.4">10</text><text x="1185.8" y="486">15</text></g>
<rect x="412.4" y="791.4" width="451" height="261.85" fill="#C1FFC1"/>
<rect x="483.61" y="791.4" width="23.74" height="13.78" fill="#FD793F"/>
<rect x="483.61" y="805.18" width="23.74" height="13.78" fill="#DF0001"/>
<rect x="578.56" y="805.18" width="23.74" height="13.78" fill="#FF5D2A"/>
<rect x="697.24" y="805.18" width="23.74" height="13.78" fill="#F79C5D"/>
<rect x="768.45" y="805.18" width="23.74" height="13.78" fill="#F79C5D"/>
<rect x="815.93" y="818.96" width="23.74" height="13.78" fill="#FD743B"/>
<rect x="412.4" y="832.74" width="23.74" height="13.78" fill="#FB894C"/>
<rect x="578.56" y="832.74" width="23.74" height="13.78" fill="#F79C5D"/>
<rect x="815.93" y="832.74" width="23.74" height="13.78" fill="#F79C5D"/>
<rect x="697.24" y="846.53" width="23.74" height="13.78" fill="#FE6933"/>
<rect x="839.66" y="846.53" width="23.74" height="13.78" fill="#F79C5D"/>
<rect x="697.24" y="860.31" width="23.74" height="13.78" fill="#FE6933"/>
<rect x="744.72" y="860.31" width="23.74" height="13.78" fill="#FD793F"/>
<rect x="815.93" y="860.31" width="23.74" height="13.78" fill="#FE6933"/>
<rect x="839.66" y="860.31" width="23.74" height="13.78" fill="#FD793F"/>
<rect x="649.77" y="874.09" width="23.74" height="13.78" fill="#FF632E"/>
<rect x="673.51" y="874.09" width="23.74" height="13.78" fill="#F79C5D"/>
<rect x="697.24" y="874.09" width="23.74" height="13.78" fill="#F99254"/>
<rect x="744.72" y="874.09" width="23.74" height="13.78" fill="#F20001"/>
<rect x="815.93" y="874.09" width="23.74" height="13.78" fill="#F20001"/>
<rect x="839.66" y="874.09" width="23.74" height="13.78" fill="#E90001"/>
<rect x="649.77" y="887.87" width="23.74" height="13.78" fill="#F79C5D"/>
<rect x="720.98" y="887.87" width="23.74" height="13.78" fill="#F20001"/>
<rect x="744.72" y="887.87" width="23.74" height="13.78" fill="#FC8448"/>
<rect x="839.66" y="887.87" width="23.74" height="13.78" fill="#FD793F"/>
<rect x="649.77" y="901.65" width="23.74" height="13.78" fill="#F79C5D"/>
<rect x="673.51" y="901.65" width="23.74" height="13.78" fill="#FE6F37"/>
<rect x="697.24" y="901.65" width="23.74" height="13.78" fill="#F89758"/>
<rect x="720.98" y="901.65" width="23.74" height="13.78" fill="#FA8E50"/>
<rect x="744.72" y="901.65" width="23.74" height="13.78" fill="#FB894C"/>
<rect x="649.77" y="915.43" width="23.74" height="13.78" fill="#F79C5D"/>
<rect x="744.72" y="915.43" width="23.74" height="13.78" fill="#FC8448"/>
<rect x="649.77" y="929.22" width="23.74" height="13.78" fill="#F79C5D"/>
<rect x="697.24" y="929.22" width="23.74" height="13.78" fill="#F20001"/>
<rect x="720.98" y="929.22" width="23.74" height="13.78" fill="#F79C5D"/>
<rect x="744.72" y="929.22" width="23.74" height="13.78" fill="#F20001"/>
<rect x="649.77" y="943" width="23.74" height="13.78" fill="#FC8448"/>
<rect x="697.24" y="943" width="23.74" height="13.78" fill="#D60002"/>
<rect x="744.72" y="943" width="23.74" height="13.78" fill="#FD793F"/>
<rect x="768.45" y="943" width="23.74" height="13.78" fill="#FB894C"/>
<rect x="507.35" y="956.78" width="23.74" height="13.78" fill="#F99254"/>
<rect x="531.08" y="956.78" width="23.74" height="13.78" fill="#F79C5D"/>
<rect x="554.82" y="956.78" width="23.74" height="13.78" fill="#FF3612"/>
<rect x="697.24" y="956.78" width="23.74" height="13.78" fill="#FF4017"/>
<rect x="720.98" y="956.78" width="23.74" height="13.78" fill="#F89758"/>
<rect x="744.72" y="956.78" width="23.74" height="13.78" fill="#F60000"/>
<rect x="507.35" y="970.56" width="23.74" height="13.78" fill="#FF5626"/>
<rect x="531.08" y="970.56" width="23.74" height="13.78" fill="#FE6933"/>
<rect x="554.82" y="970.56" width="23.74" height="13.78" fill="#F6A161"/>
<rect x="720.98" y="970.56" width="23.74" height="13.78" fill="#FF5626"/>
<rect x="744.72" y="970.56" width="23.74" height="13.78" fill="#FF5626"/>
<rect x="459.87" y="984.34" width="23.74" height="13.78" fill="#F60000"/>
<rect x="507.35" y="984.34" width="23.74" height="13.78" fill="#F89758"/>
<rect x="531.08" y="984.34" width="23.74" height="13.78" fill="#F60000"/>
<rect x="554.82" y="984.34" width="23.74" height="13.78" fill="#FD743B"/>
<rect x="578.56" y="984.34" width="23.74" height="13.78" fill="#F89758"/>
<rect x="720.98" y="984.34" width="23.74" height="13.78" fill="#F89758"/>
<rect x="744.72" y="984.34" width="23.74" height="13.78" fill="#FF632E"/>
<rect x="436.14" y="998.12" width="23.74" height="13.78" fill="#FF5626"/>
<rect x="459.87" y="998.12" width="23.74" height="13.78" fill="#F60000"/>
<rect x="483.61" y="998.12" width="23.74" height="13.78" fill="#FF5626"/>
<rect x="507.35" y="998.12" width="23.74" height="13.78" fill="#FD743B"/>
<rect x="531.08" y="998.12" width="23.74" height="13.78" fill="#FF5626"/>
<rect x="554.82" y="998.12" width="23.74" height="13.78" fill="#F79C5D"/>
<rect x="649.77" y="998.12" width="23.74" height="13.78" fill="#FB894C"/>
<rect x="744.72" y="998.12" width="23.74" height="13.78" fill="#F99254"/>
<rect x="436.14" y="1011.91" width="23.74" height="13.78" fill="#DF0001"/>
<rect x="483.61" y="1011.91" width="23.74" height="13.78" fill="#F79C5D"/>
<rect x="507.35" y="1011.91" width="23.74" height="13.78" fill="#FE6F37"/>
<rect x="531.08" y="1011.91" width="23.74" height="13.78" fill="#D60002"/>
<rect x="554.82" y="1011.91" width="23.74" height="13.78" fill="#F20001"/>
<rect x="578.56" y="1011.91" width="23.74" height="13.78" fill="#FE6F37"/>
<rect x="602.29" y="1011.91" width="23.74" height="13.78" fill="#F20001"/>
<rect x="649.77" y="1011.91" width="23.74" height="13.78" fill="#FB894C"/>
<rect x="459.87" y="1025.69" width="23.74" height="13.78" fill="#CD0002"/>
<rect x="483.61" y="1025.69" width="23.74" height="13.78" fill="#F20001"/>
<rect x="531.08" y="1025.69" width="23.74" height="13.78" fill="#F20001"/>
<rect x="578.56" y="1025.69" width="23.74" height="13.78" fill="#F20001"/>
<rect x="602.29" y="1025.69" width="23.74" height="13.78" fill="#F20001"/>
<rect x="649.77" y="1025.69" width="23.74" height="13.78" fill="#FF5626"/>
<rect x="697.24" y="1025.69" width="23.74" height="13.78" fill="#FD793F"/>
<rect x="720.98" y="1025.69" width="23.74" height="13.78" fill="#F89758"/>
<rect x="459.87" y="1039.47" width="23.74" height="13.78" fill="#FB894C"/>
<rect x="578.56" y="1039.47" width="23.74" height="13.78" fill="#990001"/>
<rect x="602.29" y="1039.47" width="23.74" height="13.78" fill="#F20001"/>
<path d="M412.4 791.4V1053.25M412.4 791.4H863.4M436.14 791.4V1053.25M412.4 805.18H863.4M459.87 791.4V1053.25M412.4 818.96H863.4M483.61 791.4V1053.25M412.4 832.74H863.4M507.35 791.4V1053.25M412.4 846.53H863.4M531.08 791.4V1053.25M412.4 860.31H863.4M554.82 791.4V1053.25M412.4 874.09H863.4M578.56 791.4V1053.25M412.4 887.87H863.4M602.29 791.4V1053.25M412.4 901.65H863.4M626.03 791.4V1053.25M412.4 915.43H863.4M649.77 791.4V1053.25M412.4 929.22H863.4M673.51 791.4V1053.25M412.4 943H863.4M697.24 791.4V1053.25M412.4 956.78H863.4M720.98 791.4V1053.25M412.4 970.56H863.4M744.72 791.4V1053.25M412.4 984.34H863.4M768.45 791.4V1053.25M412.4 998.12H863.4M792.19 791.4V1053.25M412.4 1011.91H863.4M815.93 791.4V1053.25M412.4 1025.69H863.4M839.66 791.4V1053.25M412.4 1039.47H863.4M863.4 791.4V1053.25M412.4 1053.25H863.4" stroke="#000" stroke-opacity="0.75" stroke-width="0.9" fill="none"/>
<rect x="412.4" y="791.4" width="451" height="261.85" stroke="#000" stroke-opacity="0.55" stroke-width="1" fill="none"/>
<g fill="#000"><use href="#s" x="492.58" y="795.79"/><use href="#s" x="498.38" y="795.79"/><use href="#s" x="492.58" y="809.57"/><use href="#s" x="498.38" y="809.57"/><use href="#s" x="587.53" y="809.57"/><use href="#s" x="593.33" y="809.57"/><use href="#s" x="709.11" y="809.57"/><use href="#s" x="780.32" y="809.57"/><use href="#s" x="824.89" y="823.35"/><use href="#s" x="830.69" y="823.35"/><use href="#s" x="421.37" y="837.14"/><use href="#s" x="427.17" y="837.14"/><use href="#s" x="590.43" y="837.14"/><use href="#s" x="827.79" y="837.14"/><use href="#s" x="706.21" y="850.92"/><use href="#s" x="712.01" y="850.92"/><use href="#s" x="851.53" y="850.92"/><use href="#s" x="706.21" y="864.7"/><use href="#s" x="712.01" y="864.7"/><use href="#s" x="753.68" y="864.7"/><use href="#s" x="759.48" y="864.7"/><use href="#s" x="824.89" y="864.7"/><use href="#s" x="830.69" y="864.7"/><use href="#s" x="848.63" y="864.7"/><use href="#s" x="854.43" y="864.7"/><use href="#s" x="658.74" y="878.48"/><use href="#s" x="664.54" y="878.48"/><use href="#s" x="685.37" y="878.48"/><use href="#s" x="709.11" y="878.48"/><use href="#s" x="753.68" y="878.48"/><use href="#s" x="759.48" y="878.48"/><use href="#s" x="824.89" y="878.48"/><use href="#s" x="830.69" y="878.48"/><use href="#s" x="848.63" y="878.48"/><use href="#s" x="854.43" y="878.48"/><use href="#s" x="661.64" y="892.26"/><use href="#s" x="729.95" y="892.26"/><use href="#s" x="735.75" y="892.26"/><use href="#s" x="753.68" y="892.26"/><use href="#s" x="759.48" y="892.26"/><use href="#s" x="848.63" y="892.26"/><use href="#s" x="854.43" y="892.26"/><use href="#s" x="661.64" y="906.04"/><use href="#s" x="682.47" y="906.04"/><use href="#s" x="688.27" y="906.04"/><use href="#s" x="709.11" y="906.04"/><use href="#s" x="729.95" y="906.04"/><use href="#s" x="735.75" y="906.04"/><use href="#s" x="753.68" y="906.04"/><use href="#s" x="759.48" y="906.04"/><use href="#s" x="661.64" y="919.83"/><use href="#s" x="753.68" y="919.83"/><use href="#s" x="759.48" y="919.83"/><use href="#s" x="661.64" y="933.61"/><use href="#s" x="706.21" y="933.61"/><use href="#s" x="712.01" y="933.61"/><use href="#s" x="732.85" y="933.61"/><use href="#s" x="753.68" y="933.61"/><use href="#s" x="759.48" y="933.61"/><use href="#s" x="658.74" y="947.39"/><use href="#s" x="664.54" y="947.39"/><use href="#s" x="706.21" y="947.39"/><use href="#s" x="712.01" y="947.39"/><use href="#s" x="753.68" y="947.39"/><use href="#s" x="759.48" y="947.39"/><use href="#s" x="777.42" y="947.39"/><use href="#s" x="783.22" y="947.39"/><use href="#s" x="519.22" y="961.17"/><use href="#s" x="542.95" y="961.17"/><use href="#s" x="563.79" y="961.17"/><use href="#s" x="569.59" y="961.17"/><use href="#s" x="706.21" y="961.17"/><use href="#s" x="712.01" y="961.17"/><use href="#s" x="732.85" y="961.17"/><use href="#s" x="753.68" y="961.17"/><use href="#s" x="759.48" y="961.17"/><use href="#s" x="516.32" y="974.95"/><use href="#s" x="522.12" y="974.95"/><use href="#s" x="540.05" y="974.95"/><use href="#s" x="545.85" y="974.95"/><use href="#s" x="566.69" y="974.95"/><use href="#s" x="729.95" y="974.95"/><use href="#s" x="735.75" y="974.95"/><use href="#s" x="753.68" y="974.95"/><use href="#s" x="759.48" y="974.95"/><use href="#s" x="468.84" y="988.73"/><use href="#s" x="474.64" y="988.73"/><use href="#s" x="519.22" y="988.73"/><use href="#s" x="540.05" y="988.73"/><use href="#s" x="545.85" y="988.73"/><use href="#s" x="563.79" y="988.73"/><use href="#s" x="569.59" y="988.73"/><use href="#s" x="590.43" y="988.73"/><use href="#s" x="732.85" y="988.73"/><use href="#s" x="753.68" y="988.73"/><use href="#s" x="759.48" y="988.73"/><use href="#s" x="445.11" y="1002.51"/><use href="#s" x="450.91" y="1002.51"/><use href="#s" x="468.84" y="1002.51"/><use href="#s" x="474.64" y="1002.51"/><use href="#s" x="492.58" y="1002.51"/><use href="#s" x="498.38" y="1002.51"/><use href="#s" x="516.32" y="1002.51"/><use href="#s" x="522.12" y="1002.51"/><use href="#s" x="540.05" y="1002.51"/><use href="#s" x="545.85" y="1002.51"/><use href="#s" x="566.69" y="1002.51"/><use href="#s" x="658.74" y="1002.51"/><use href="#s" x="664.54" y="1002.51"/><use href="#s" x="756.58" y="1002.51"/><use href="#s" x="445.11" y="1016.3"/><use href="#s" x="450.91" y="1016.3"/><use href="#s" x="495.48" y="1016.3"/><use href="#s" x="516.32" y="1016.3"/><use href="#s" x="522.12" y="1016.3"/><use href="#s" x="540.05" y="1016.3"/><use href="#s" x="545.85" y="1016.3"/><use href="#s" x="563.79" y="1016.3"/><use href="#s" x="569.59" y="1016.3"/><use href="#s" x="587.53" y="1016.3"/><use href="#s" x="593.33" y="1016.3"/><use href="#s" x="611.26" y="1016.3"/><use href="#s" x="617.06" y="1016.3"/><use href="#s" x="658.74" y="1016.3"/><use href="#s" x="664.54" y="1016.3"/><use href="#s" x="468.84" y="1030.08"/><use href="#s" x="474.64" y="1030.08"/><use href="#s" x="492.58" y="1030.08"/><use href="#s" x="498.38" y="1030.08"/><use href="#s" x="540.05" y="1030.08"/><use href="#s" x="545.85" y="1030.08"/><use href="#s" x="587.53" y="1030.08"/><use href="#s" x="593.33" y="1030.08"/><use href="#s" x="611.26" y="1030.08"/><use href="#s" x="617.06" y="1030.08"/><use href="#s" x="658.74" y="1030.08"/><use href="#s" x="664.54" y="1030.08"/><use href="#s" x="706.21" y="1030.08"/><use href="#s" x="712.01" y="1030.08"/><use href="#s" x="732.85" y="1030.08"/><use href="#s" x="471.74" y="1043.86"/><use href="#s" x="587.53" y="1043.86"/><use href="#s" x="593.33" y="1043.86"/><use href="#s" x="611.26" y="1043.86"/><use href="#s" x="617.06" y="1043.86"/></g>
<g class="al"><text x="403.2" y="803.19" text-anchor="end">0.95</text><text x="403.2" y="816.97" text-anchor="end">0.90</text><text x="403.2" y="830.75" text-anchor="end">0.85</text><text x="403.2" y="844.54" text-anchor="end">0.80</text><text x="403.2" y="858.32" text-anchor="end">0.75</text><text x="403.2" y="872.1" text-anchor="end">0.70</text><text x="403.2" y="885.88" text-anchor="end">0.65</text><text x="403.2" y="899.66" text-anchor="end">0.60</text><text x="403.2" y="913.44" text-anchor="end">0.55</text><text x="403.2" y="927.23" text-anchor="end">0.50</text><text x="403.2" y="941.01" text-anchor="end">0.45</text><text x="403.2" y="954.79" text-anchor="end">0.40</text><text x="403.2" y="968.57" text-anchor="end">0.35</text><text x="403.2" y="982.35" text-anchor="end">0.30</text><text x="403.2" y="996.13" text-anchor="end">0.25</text><text x="403.2" y="1009.91" text-anchor="end">0.20</text><text x="403.2" y="1023.7" text-anchor="end">0.15</text><text x="403.2" y="1037.48" text-anchor="end">0.10</text><text x="403.2" y="1051.26" text-anchor="end">0.05</text><text transform="translate(433.97 1061.65) rotate(-90)" text-anchor="end">0.05</text><text transform="translate(457.71 1061.65) rotate(-90)" text-anchor="end">0.10</text><text transform="translate(481.44 1061.65) rotate(-90)" text-anchor="end">0.15</text><text transform="translate(505.18 1061.65) rotate(-90)" text-anchor="end">0.20</text><text transform="translate(528.92 1061.65) rotate(-90)" text-anchor="end">0.25</text><text transform="translate(552.65 1061.65) rotate(-90)" text-anchor="end">0.30</text><text transform="translate(576.39 1061.65) rotate(-90)" text-anchor="end">0.35</text><text transform="translate(600.13 1061.65) rotate(-90)" text-anchor="end">0.40</text><text transform="translate(623.86 1061.65) rotate(-90)" text-anchor="end">0.45</text><text transform="translate(647.6 1061.65) rotate(-90)" text-anchor="end">0.50</text><text transform="translate(671.34 1061.65) rotate(-90)" text-anchor="end">0.55</text><text transform="translate(695.07 1061.65) rotate(-90)" text-anchor="end">0.60</text><text transform="translate(718.81 1061.65) rotate(-90)" text-anchor="end">0.65</text><text transform="translate(742.55 1061.65) rotate(-90)" text-anchor="end">0.70</text><text transform="translate(766.28 1061.65) rotate(-90)" text-anchor="end">0.75</text><text transform="translate(790.02 1061.65) rotate(-90)" text-anchor="end">0.80</text><text transform="translate(813.76 1061.65) rotate(-90)" text-anchor="end">0.85</text><text transform="translate(837.49 1061.65) rotate(-90)" text-anchor="end">0.90</text><text transform="translate(861.23 1061.65) rotate(-90)" text-anchor="end">0.95</text></g>
<text class="tt" transform="translate(374 922.33) rotate(-90)" text-anchor="middle">Quantiles of INF</text>
<text class="tt" x="637.7" y="1099.2" text-anchor="middle">Quantiles of FinS</text>
<text class="cp" x="636.5" y="1134.8" text-anchor="middle">e.</text>
<rect x="888.3" y="817.2" width="11.4" height="229.9" fill="url(#cg)"/>
<path d="M888.3 1047.1h5.1M899.7 1047.1h-5.1M888.3 987.6h5.1M899.7 987.6h-5.1M888.3 927.2h5.1M899.7 927.2h-5.1M888.3 867h5.1M899.7 867h-5.1" stroke="#fff" stroke-opacity="0.65" stroke-width="1"/>
<g class="lg"><text x="907.3" y="1051.7">0.0</text><text x="907.3" y="992.2">2.5</text><text x="907.3" y="931.8">5.0</text><text x="907.3" y="871.6">7.5</text></g>
</svg></body></html>
